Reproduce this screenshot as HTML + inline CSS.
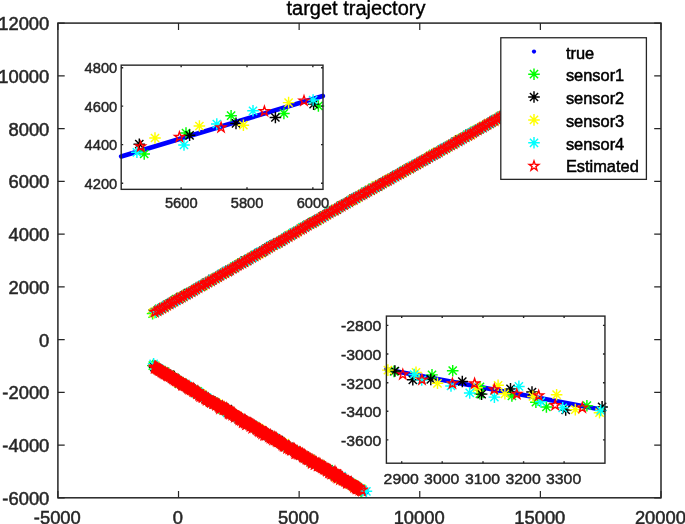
<!DOCTYPE html>
<html lang="en"><head><meta charset="utf-8"><title>target trajectory</title>
<style>html,body{margin:0;padding:0;background:#fff;width:685px;height:524px;overflow:hidden}</style>
</head><body>
<svg width="685" height="524" viewBox="0 0 685 524" style="display:block;position:absolute;left:0;top:0" font-family="'Liberation Sans', Arial, Helvetica, sans-serif">
<defs>
<path id="a" d="M-5.80 0H5.80M0 -5.80V5.80M-4.10 -4.10L4.10 4.10M-4.10 4.10L4.10 -4.10" fill="none" stroke-width="1.45"/>
<polygon id="s" points="0.00,-5.10 1.18,-1.62 4.85,-1.58 1.90,0.62 3.00,4.13 0.00,2.00 -3.00,4.13 -1.90,0.62 -4.85,-1.58 -1.18,-1.62" fill="none" stroke="#f00" stroke-width="1.4" stroke-linejoin="miter"/>
</defs>
<rect width="685" height="524" fill="#fff"/>
<use href="#a" x="152.6" y="313.6" stroke="#00ff00"/><use href="#a" x="153.4" y="312.6" stroke="#ffff00"/><use href="#a" x="152.8" y="365.6" stroke="#00ff00"/><use href="#a" x="153.6" y="363.8" stroke="#00ffff"/>
<line x1="154.8" y1="312.2" x2="560.0" y2="83.2" stroke="#00f" stroke-width="4.5" stroke-linecap="round"/>
<use href="#a" x="154.7" y="312.4" stroke="#00ff00"/><use href="#a" x="157.6" y="310.9" stroke="#00ff00"/><use href="#a" x="159.1" y="308.8" stroke="#00ff00"/><use href="#a" x="162.2" y="308.2" stroke="#00ff00"/><use href="#a" x="164.4" y="306.7" stroke="#00ff00"/><use href="#a" x="166.6" y="305.4" stroke="#00ff00"/><use href="#a" x="169.3" y="303.7" stroke="#00ff00"/><use href="#a" x="172.3" y="302.7" stroke="#00ff00"/><use href="#a" x="173.9" y="301.0" stroke="#00ff00"/><use href="#a" x="176.0" y="299.0" stroke="#00ff00"/><use href="#a" x="179.1" y="298.6" stroke="#00ff00"/><use href="#a" x="181.8" y="297.3" stroke="#00ff00"/><use href="#a" x="183.5" y="296.3" stroke="#00ff00"/><use href="#a" x="186.1" y="294.2" stroke="#00ff00"/><use href="#a" x="188.3" y="293.0" stroke="#00ff00"/><use href="#a" x="190.9" y="291.9" stroke="#00ff00"/><use href="#a" x="193.6" y="290.4" stroke="#00ff00"/><use href="#a" x="195.9" y="288.8" stroke="#00ff00"/><use href="#a" x="198.1" y="287.6" stroke="#00ff00"/><use href="#a" x="201.8" y="286.3" stroke="#00ff00"/><use href="#a" x="203.7" y="284.4" stroke="#00ff00"/><use href="#a" x="205.6" y="283.6" stroke="#00ff00"/><use href="#a" x="208.2" y="282.5" stroke="#00ff00"/><use href="#a" x="211.0" y="280.6" stroke="#00ff00"/><use href="#a" x="213.1" y="279.5" stroke="#00ff00"/><use href="#a" x="215.9" y="278.2" stroke="#00ff00"/><use href="#a" x="217.6" y="277.1" stroke="#00ff00"/><use href="#a" x="220.5" y="275.3" stroke="#00ff00"/><use href="#a" x="222.5" y="274.2" stroke="#00ff00"/><use href="#a" x="224.5" y="272.7" stroke="#00ff00"/><use href="#a" x="227.6" y="271.4" stroke="#00ff00"/><use href="#a" x="229.3" y="270.1" stroke="#00ff00"/><use href="#a" x="233.1" y="268.3" stroke="#00ff00"/><use href="#a" x="234.3" y="266.7" stroke="#00ff00"/><use href="#a" x="236.7" y="265.3" stroke="#00ff00"/><use href="#a" x="239.3" y="264.3" stroke="#00ff00"/><use href="#a" x="241.4" y="262.5" stroke="#00ff00"/><use href="#a" x="245.0" y="261.7" stroke="#00ff00"/><use href="#a" x="247.7" y="259.4" stroke="#00ff00"/><use href="#a" x="249.6" y="259.0" stroke="#00ff00"/><use href="#a" x="251.5" y="257.2" stroke="#00ff00"/><use href="#a" x="254.5" y="255.0" stroke="#00ff00"/><use href="#a" x="256.0" y="254.9" stroke="#00ff00"/><use href="#a" x="259.2" y="253.2" stroke="#00ff00"/><use href="#a" x="262.2" y="252.1" stroke="#00ff00"/><use href="#a" x="264.0" y="250.6" stroke="#00ff00"/><use href="#a" x="266.3" y="249.3" stroke="#00ff00"/><use href="#a" x="268.8" y="247.7" stroke="#00ff00"/><use href="#a" x="271.4" y="245.9" stroke="#00ff00"/><use href="#a" x="273.3" y="245.4" stroke="#00ff00"/><use href="#a" x="276.6" y="243.7" stroke="#00ff00"/><use href="#a" x="278.5" y="242.3" stroke="#00ff00"/><use href="#a" x="281.4" y="240.6" stroke="#00ff00"/><use href="#a" x="283.0" y="239.3" stroke="#00ff00"/><use href="#a" x="285.9" y="237.9" stroke="#00ff00"/><use href="#a" x="288.1" y="235.8" stroke="#00ff00"/><use href="#a" x="291.3" y="235.3" stroke="#00ff00"/><use href="#a" x="292.4" y="233.7" stroke="#00ff00"/><use href="#a" x="295.5" y="232.4" stroke="#00ff00"/><use href="#a" x="297.6" y="230.5" stroke="#00ff00"/><use href="#a" x="300.3" y="229.4" stroke="#00ff00"/><use href="#a" x="302.7" y="227.1" stroke="#00ff00"/><use href="#a" x="305.1" y="226.6" stroke="#00ff00"/><use href="#a" x="307.9" y="225.4" stroke="#00ff00"/><use href="#a" x="309.9" y="223.9" stroke="#00ff00"/><use href="#a" x="312.9" y="221.7" stroke="#00ff00"/><use href="#a" x="315.2" y="221.4" stroke="#00ff00"/><use href="#a" x="317.5" y="220.4" stroke="#00ff00"/><use href="#a" x="320.0" y="218.6" stroke="#00ff00"/><use href="#a" x="322.7" y="216.7" stroke="#00ff00"/><use href="#a" x="324.4" y="215.8" stroke="#00ff00"/><use href="#a" x="327.1" y="214.4" stroke="#00ff00"/><use href="#a" x="329.0" y="212.2" stroke="#00ff00"/><use href="#a" x="331.9" y="210.9" stroke="#00ff00"/><use href="#a" x="334.2" y="210.5" stroke="#00ff00"/><use href="#a" x="336.9" y="208.8" stroke="#00ff00"/><use href="#a" x="339.0" y="207.3" stroke="#00ff00"/><use href="#a" x="341.0" y="205.6" stroke="#00ff00"/><use href="#a" x="344.3" y="204.6" stroke="#00ff00"/><use href="#a" x="346.4" y="203.4" stroke="#00ff00"/><use href="#a" x="349.4" y="201.9" stroke="#00ff00"/><use href="#a" x="351.6" y="199.8" stroke="#00ff00"/><use href="#a" x="354.3" y="198.9" stroke="#00ff00"/><use href="#a" x="356.3" y="198.5" stroke="#00ff00"/><use href="#a" x="358.7" y="196.4" stroke="#00ff00"/><use href="#a" x="360.9" y="195.4" stroke="#00ff00"/><use href="#a" x="364.0" y="193.5" stroke="#00ff00"/><use href="#a" x="365.5" y="191.6" stroke="#00ff00"/><use href="#a" x="368.5" y="190.4" stroke="#00ff00"/><use href="#a" x="370.9" y="190.2" stroke="#00ff00"/><use href="#a" x="372.7" y="187.5" stroke="#00ff00"/><use href="#a" x="375.9" y="187.1" stroke="#00ff00"/><use href="#a" x="378.3" y="186.3" stroke="#00ff00"/><use href="#a" x="380.5" y="184.3" stroke="#00ff00"/><use href="#a" x="382.5" y="183.4" stroke="#00ff00"/><use href="#a" x="385.4" y="181.9" stroke="#00ff00"/><use href="#a" x="387.9" y="180.2" stroke="#00ff00"/><use href="#a" x="390.6" y="178.7" stroke="#00ff00"/><use href="#a" x="393.0" y="177.3" stroke="#00ff00"/><use href="#a" x="394.8" y="176.4" stroke="#00ff00"/><use href="#a" x="397.7" y="174.3" stroke="#00ff00"/><use href="#a" x="400.1" y="174.0" stroke="#00ff00"/><use href="#a" x="403.1" y="171.4" stroke="#00ff00"/><use href="#a" x="404.7" y="171.1" stroke="#00ff00"/><use href="#a" x="407.3" y="169.2" stroke="#00ff00"/><use href="#a" x="410.0" y="168.7" stroke="#00ff00"/><use href="#a" x="412.2" y="166.2" stroke="#00ff00"/><use href="#a" x="414.7" y="165.4" stroke="#00ff00"/><use href="#a" x="417.1" y="163.7" stroke="#00ff00"/><use href="#a" x="419.3" y="163.0" stroke="#00ff00"/><use href="#a" x="422.0" y="161.3" stroke="#00ff00"/><use href="#a" x="424.3" y="160.0" stroke="#00ff00"/><use href="#a" x="426.3" y="158.7" stroke="#00ff00"/><use href="#a" x="429.8" y="156.3" stroke="#00ff00"/><use href="#a" x="430.8" y="156.1" stroke="#00ff00"/><use href="#a" x="433.3" y="153.9" stroke="#00ff00"/><use href="#a" x="435.5" y="153.0" stroke="#00ff00"/><use href="#a" x="439.6" y="151.4" stroke="#00ff00"/><use href="#a" x="441.2" y="150.2" stroke="#00ff00"/><use href="#a" x="443.6" y="149.4" stroke="#00ff00"/><use href="#a" x="446.4" y="147.8" stroke="#00ff00"/><use href="#a" x="448.2" y="146.1" stroke="#00ff00"/><use href="#a" x="451.3" y="145.0" stroke="#00ff00"/><use href="#a" x="453.1" y="143.6" stroke="#00ff00"/><use href="#a" x="455.6" y="142.1" stroke="#00ff00"/><use href="#a" x="458.3" y="140.7" stroke="#00ff00"/><use href="#a" x="459.6" y="139.5" stroke="#00ff00"/><use href="#a" x="463.0" y="137.9" stroke="#00ff00"/><use href="#a" x="465.4" y="137.0" stroke="#00ff00"/><use href="#a" x="467.5" y="134.6" stroke="#00ff00"/><use href="#a" x="470.5" y="133.6" stroke="#00ff00"/><use href="#a" x="472.7" y="132.3" stroke="#00ff00"/><use href="#a" x="475.1" y="131.1" stroke="#00ff00"/><use href="#a" x="477.5" y="129.9" stroke="#00ff00"/><use href="#a" x="480.1" y="128.7" stroke="#00ff00"/><use href="#a" x="482.4" y="127.6" stroke="#00ff00"/><use href="#a" x="484.8" y="125.9" stroke="#00ff00"/><use href="#a" x="487.7" y="124.4" stroke="#00ff00"/><use href="#a" x="489.6" y="123.7" stroke="#00ff00"/><use href="#a" x="492.5" y="121.6" stroke="#00ff00"/><use href="#a" x="494.6" y="120.0" stroke="#00ff00"/><use href="#a" x="497.6" y="118.9" stroke="#00ff00"/><use href="#a" x="499.4" y="117.6" stroke="#00ff00"/><use href="#a" x="501.4" y="116.0" stroke="#00ff00"/><use href="#a" x="504.2" y="114.7" stroke="#00ff00"/><use href="#a" x="506.8" y="113.2" stroke="#00ff00"/><use href="#a" x="508.4" y="112.1" stroke="#00ff00"/><use href="#a" x="511.6" y="111.1" stroke="#00ff00"/><use href="#a" x="513.8" y="109.4" stroke="#00ff00"/><use href="#a" x="516.8" y="108.1" stroke="#00ff00"/><use href="#a" x="519.5" y="106.1" stroke="#00ff00"/><use href="#a" x="520.7" y="104.7" stroke="#00ff00"/><use href="#a" x="523.5" y="104.1" stroke="#00ff00"/><use href="#a" x="526.4" y="102.3" stroke="#00ff00"/><use href="#a" x="528.1" y="101.5" stroke="#00ff00"/><use href="#a" x="531.1" y="99.7" stroke="#00ff00"/><use href="#a" x="533.5" y="98.7" stroke="#00ff00"/><use href="#a" x="535.6" y="96.5" stroke="#00ff00"/><use href="#a" x="537.9" y="95.3" stroke="#00ff00"/><use href="#a" x="540.7" y="94.5" stroke="#00ff00"/><use href="#a" x="542.4" y="92.7" stroke="#00ff00"/><use href="#a" x="545.1" y="91.0" stroke="#00ff00"/><use href="#a" x="548.1" y="89.9" stroke="#00ff00"/><use href="#a" x="550.3" y="89.0" stroke="#00ff00"/><use href="#a" x="553.4" y="87.9" stroke="#00ff00"/><use href="#a" x="555.3" y="86.4" stroke="#00ff00"/><use href="#a" x="557.4" y="84.2" stroke="#00ff00"/><use href="#a" x="560.3" y="83.0" stroke="#00ff00"/>
<use href="#a" x="154.7" y="312.1" stroke="#000000"/><use href="#a" x="157.4" y="310.9" stroke="#000000"/><use href="#a" x="159.3" y="309.3" stroke="#000000"/><use href="#a" x="161.8" y="308.7" stroke="#000000"/><use href="#a" x="164.7" y="306.8" stroke="#000000"/><use href="#a" x="167.1" y="304.8" stroke="#000000"/><use href="#a" x="169.5" y="304.0" stroke="#000000"/><use href="#a" x="171.8" y="302.1" stroke="#000000"/><use href="#a" x="174.7" y="300.5" stroke="#000000"/><use href="#a" x="176.8" y="299.6" stroke="#000000"/><use href="#a" x="179.6" y="298.7" stroke="#000000"/><use href="#a" x="180.8" y="296.9" stroke="#000000"/><use href="#a" x="184.1" y="295.7" stroke="#000000"/><use href="#a" x="186.7" y="294.4" stroke="#000000"/><use href="#a" x="188.7" y="292.9" stroke="#000000"/><use href="#a" x="191.6" y="291.9" stroke="#000000"/><use href="#a" x="193.8" y="290.3" stroke="#000000"/><use href="#a" x="196.0" y="289.2" stroke="#000000"/><use href="#a" x="198.6" y="287.6" stroke="#000000"/><use href="#a" x="200.7" y="286.1" stroke="#000000"/><use href="#a" x="203.3" y="285.1" stroke="#000000"/><use href="#a" x="206.1" y="282.5" stroke="#000000"/><use href="#a" x="208.1" y="282.1" stroke="#000000"/><use href="#a" x="211.6" y="280.3" stroke="#000000"/><use href="#a" x="212.5" y="278.8" stroke="#000000"/><use href="#a" x="216.0" y="277.6" stroke="#000000"/><use href="#a" x="218.2" y="276.5" stroke="#000000"/><use href="#a" x="220.8" y="274.8" stroke="#000000"/><use href="#a" x="222.8" y="273.8" stroke="#000000"/><use href="#a" x="225.3" y="272.2" stroke="#000000"/><use href="#a" x="228.1" y="271.6" stroke="#000000"/><use href="#a" x="229.6" y="269.7" stroke="#000000"/><use href="#a" x="232.6" y="268.7" stroke="#000000"/><use href="#a" x="235.2" y="267.2" stroke="#000000"/><use href="#a" x="237.6" y="265.4" stroke="#000000"/><use href="#a" x="238.9" y="264.3" stroke="#000000"/><use href="#a" x="242.3" y="262.6" stroke="#000000"/><use href="#a" x="244.7" y="260.7" stroke="#000000"/><use href="#a" x="247.2" y="260.9" stroke="#000000"/><use href="#a" x="249.1" y="258.6" stroke="#000000"/><use href="#a" x="252.2" y="257.3" stroke="#000000"/><use href="#a" x="254.5" y="256.1" stroke="#000000"/><use href="#a" x="256.8" y="254.3" stroke="#000000"/><use href="#a" x="259.0" y="252.8" stroke="#000000"/><use href="#a" x="262.2" y="252.1" stroke="#000000"/><use href="#a" x="263.7" y="250.3" stroke="#000000"/><use href="#a" x="266.4" y="248.7" stroke="#000000"/><use href="#a" x="268.8" y="247.2" stroke="#000000"/><use href="#a" x="270.6" y="246.2" stroke="#000000"/><use href="#a" x="273.6" y="244.4" stroke="#000000"/><use href="#a" x="276.1" y="243.7" stroke="#000000"/><use href="#a" x="278.4" y="242.4" stroke="#000000"/><use href="#a" x="281.0" y="241.6" stroke="#000000"/><use href="#a" x="283.5" y="239.7" stroke="#000000"/><use href="#a" x="285.7" y="238.1" stroke="#000000"/><use href="#a" x="288.0" y="236.7" stroke="#000000"/><use href="#a" x="291.1" y="234.8" stroke="#000000"/><use href="#a" x="293.3" y="233.1" stroke="#000000"/><use href="#a" x="295.8" y="232.5" stroke="#000000"/><use href="#a" x="297.9" y="230.9" stroke="#000000"/><use href="#a" x="300.4" y="229.2" stroke="#000000"/><use href="#a" x="302.5" y="228.1" stroke="#000000"/><use href="#a" x="305.4" y="226.9" stroke="#000000"/><use href="#a" x="307.4" y="224.8" stroke="#000000"/><use href="#a" x="310.3" y="223.7" stroke="#000000"/><use href="#a" x="312.2" y="222.6" stroke="#000000"/><use href="#a" x="315.1" y="221.0" stroke="#000000"/><use href="#a" x="317.3" y="219.7" stroke="#000000"/><use href="#a" x="319.5" y="218.9" stroke="#000000"/><use href="#a" x="322.5" y="216.7" stroke="#000000"/><use href="#a" x="324.6" y="215.6" stroke="#000000"/><use href="#a" x="326.8" y="214.1" stroke="#000000"/><use href="#a" x="329.9" y="212.6" stroke="#000000"/><use href="#a" x="331.9" y="211.5" stroke="#000000"/><use href="#a" x="334.6" y="210.0" stroke="#000000"/><use href="#a" x="337.0" y="209.4" stroke="#000000"/><use href="#a" x="339.3" y="207.4" stroke="#000000"/><use href="#a" x="341.6" y="205.5" stroke="#000000"/><use href="#a" x="344.2" y="204.5" stroke="#000000"/><use href="#a" x="346.2" y="203.4" stroke="#000000"/><use href="#a" x="349.2" y="201.5" stroke="#000000"/><use href="#a" x="351.6" y="200.4" stroke="#000000"/><use href="#a" x="353.4" y="198.6" stroke="#000000"/><use href="#a" x="356.0" y="197.5" stroke="#000000"/><use href="#a" x="358.2" y="196.3" stroke="#000000"/><use href="#a" x="361.5" y="194.9" stroke="#000000"/><use href="#a" x="363.4" y="193.7" stroke="#000000"/><use href="#a" x="365.9" y="192.4" stroke="#000000"/><use href="#a" x="368.1" y="191.0" stroke="#000000"/><use href="#a" x="370.5" y="190.4" stroke="#000000"/><use href="#a" x="373.4" y="188.6" stroke="#000000"/><use href="#a" x="376.2" y="186.5" stroke="#000000"/><use href="#a" x="378.0" y="185.5" stroke="#000000"/><use href="#a" x="380.4" y="184.6" stroke="#000000"/><use href="#a" x="383.0" y="182.6" stroke="#000000"/><use href="#a" x="385.4" y="181.5" stroke="#000000"/><use href="#a" x="388.0" y="180.1" stroke="#000000"/><use href="#a" x="390.1" y="179.4" stroke="#000000"/><use href="#a" x="392.7" y="177.5" stroke="#000000"/><use href="#a" x="394.6" y="176.4" stroke="#000000"/><use href="#a" x="397.2" y="174.6" stroke="#000000"/><use href="#a" x="399.9" y="173.6" stroke="#000000"/><use href="#a" x="402.3" y="172.3" stroke="#000000"/><use href="#a" x="404.3" y="170.4" stroke="#000000"/><use href="#a" x="406.8" y="169.3" stroke="#000000"/><use href="#a" x="409.3" y="167.9" stroke="#000000"/><use href="#a" x="412.2" y="166.7" stroke="#000000"/><use href="#a" x="414.6" y="165.5" stroke="#000000"/><use href="#a" x="416.8" y="164.6" stroke="#000000"/><use href="#a" x="419.4" y="162.8" stroke="#000000"/><use href="#a" x="421.6" y="161.1" stroke="#000000"/><use href="#a" x="423.8" y="160.2" stroke="#000000"/><use href="#a" x="426.2" y="159.4" stroke="#000000"/><use href="#a" x="428.8" y="157.4" stroke="#000000"/><use href="#a" x="430.8" y="156.2" stroke="#000000"/><use href="#a" x="434.2" y="154.7" stroke="#000000"/><use href="#a" x="436.6" y="153.4" stroke="#000000"/><use href="#a" x="438.6" y="151.8" stroke="#000000"/><use href="#a" x="441.2" y="150.1" stroke="#000000"/><use href="#a" x="443.2" y="149.0" stroke="#000000"/><use href="#a" x="446.0" y="147.5" stroke="#000000"/><use href="#a" x="448.0" y="146.5" stroke="#000000"/><use href="#a" x="450.6" y="144.9" stroke="#000000"/><use href="#a" x="453.5" y="143.8" stroke="#000000"/><use href="#a" x="455.6" y="141.6" stroke="#000000"/><use href="#a" x="458.8" y="139.9" stroke="#000000"/><use href="#a" x="460.7" y="139.3" stroke="#000000"/><use href="#a" x="463.2" y="137.9" stroke="#000000"/><use href="#a" x="465.1" y="136.7" stroke="#000000"/><use href="#a" x="468.1" y="135.9" stroke="#000000"/><use href="#a" x="469.6" y="133.6" stroke="#000000"/><use href="#a" x="473.1" y="132.6" stroke="#000000"/><use href="#a" x="475.2" y="131.0" stroke="#000000"/><use href="#a" x="477.7" y="129.9" stroke="#000000"/><use href="#a" x="479.9" y="128.4" stroke="#000000"/><use href="#a" x="482.2" y="127.0" stroke="#000000"/><use href="#a" x="485.2" y="126.0" stroke="#000000"/><use href="#a" x="486.9" y="124.2" stroke="#000000"/><use href="#a" x="490.1" y="123.1" stroke="#000000"/><use href="#a" x="492.2" y="121.5" stroke="#000000"/><use href="#a" x="494.4" y="120.5" stroke="#000000"/><use href="#a" x="496.9" y="118.5" stroke="#000000"/><use href="#a" x="499.0" y="118.0" stroke="#000000"/><use href="#a" x="501.9" y="115.7" stroke="#000000"/><use href="#a" x="504.2" y="115.0" stroke="#000000"/><use href="#a" x="506.7" y="114.1" stroke="#000000"/><use href="#a" x="508.8" y="111.4" stroke="#000000"/><use href="#a" x="512.2" y="111.0" stroke="#000000"/><use href="#a" x="514.0" y="109.3" stroke="#000000"/><use href="#a" x="515.9" y="108.4" stroke="#000000"/><use href="#a" x="518.9" y="106.7" stroke="#000000"/><use href="#a" x="521.0" y="104.9" stroke="#000000"/><use href="#a" x="523.9" y="103.8" stroke="#000000"/><use href="#a" x="526.3" y="102.0" stroke="#000000"/><use href="#a" x="528.2" y="101.0" stroke="#000000"/><use href="#a" x="531.0" y="98.7" stroke="#000000"/><use href="#a" x="532.9" y="98.8" stroke="#000000"/><use href="#a" x="536.1" y="97.2" stroke="#000000"/><use href="#a" x="537.9" y="95.8" stroke="#000000"/><use href="#a" x="540.9" y="94.0" stroke="#000000"/><use href="#a" x="543.0" y="92.3" stroke="#000000"/><use href="#a" x="545.6" y="91.8" stroke="#000000"/><use href="#a" x="548.0" y="90.4" stroke="#000000"/><use href="#a" x="550.1" y="88.7" stroke="#000000"/><use href="#a" x="553.0" y="87.5" stroke="#000000"/><use href="#a" x="555.3" y="86.1" stroke="#000000"/><use href="#a" x="557.3" y="84.3" stroke="#000000"/><use href="#a" x="559.5" y="83.0" stroke="#000000"/>
<use href="#a" x="154.5" y="312.1" stroke="#ffff00"/><use href="#a" x="156.6" y="311.1" stroke="#ffff00"/><use href="#a" x="159.8" y="309.4" stroke="#ffff00"/><use href="#a" x="162.3" y="308.5" stroke="#ffff00"/><use href="#a" x="164.3" y="306.4" stroke="#ffff00"/><use href="#a" x="166.9" y="305.8" stroke="#ffff00"/><use href="#a" x="168.8" y="304.3" stroke="#ffff00"/><use href="#a" x="172.0" y="302.4" stroke="#ffff00"/><use href="#a" x="173.7" y="301.3" stroke="#ffff00"/><use href="#a" x="176.2" y="300.2" stroke="#ffff00"/><use href="#a" x="179.2" y="298.7" stroke="#ffff00"/><use href="#a" x="181.8" y="296.5" stroke="#ffff00"/><use href="#a" x="184.0" y="296.0" stroke="#ffff00"/><use href="#a" x="186.0" y="294.7" stroke="#ffff00"/><use href="#a" x="189.3" y="292.6" stroke="#ffff00"/><use href="#a" x="191.3" y="291.7" stroke="#ffff00"/><use href="#a" x="193.9" y="290.5" stroke="#ffff00"/><use href="#a" x="195.9" y="289.0" stroke="#ffff00"/><use href="#a" x="198.3" y="287.7" stroke="#ffff00"/><use href="#a" x="200.8" y="286.1" stroke="#ffff00"/><use href="#a" x="203.6" y="285.3" stroke="#ffff00"/><use href="#a" x="206.1" y="282.9" stroke="#ffff00"/><use href="#a" x="208.5" y="282.1" stroke="#ffff00"/><use href="#a" x="210.9" y="280.6" stroke="#ffff00"/><use href="#a" x="213.2" y="279.0" stroke="#ffff00"/><use href="#a" x="215.5" y="277.5" stroke="#ffff00"/><use href="#a" x="217.2" y="277.0" stroke="#ffff00"/><use href="#a" x="220.7" y="275.7" stroke="#ffff00"/><use href="#a" x="223.2" y="273.7" stroke="#ffff00"/><use href="#a" x="225.2" y="272.7" stroke="#ffff00"/><use href="#a" x="227.4" y="271.4" stroke="#ffff00"/><use href="#a" x="229.9" y="269.7" stroke="#ffff00"/><use href="#a" x="232.4" y="267.9" stroke="#ffff00"/><use href="#a" x="234.9" y="267.2" stroke="#ffff00"/><use href="#a" x="237.0" y="265.3" stroke="#ffff00"/><use href="#a" x="239.5" y="263.5" stroke="#ffff00"/><use href="#a" x="242.4" y="263.1" stroke="#ffff00"/><use href="#a" x="244.9" y="261.9" stroke="#ffff00"/><use href="#a" x="246.7" y="260.3" stroke="#ffff00"/><use href="#a" x="249.5" y="259.0" stroke="#ffff00"/><use href="#a" x="251.6" y="257.0" stroke="#ffff00"/><use href="#a" x="254.9" y="256.1" stroke="#ffff00"/><use href="#a" x="257.2" y="255.2" stroke="#ffff00"/><use href="#a" x="259.9" y="253.5" stroke="#ffff00"/><use href="#a" x="261.3" y="251.9" stroke="#ffff00"/><use href="#a" x="264.1" y="250.5" stroke="#ffff00"/><use href="#a" x="266.2" y="249.0" stroke="#ffff00"/><use href="#a" x="269.0" y="248.0" stroke="#ffff00"/><use href="#a" x="270.9" y="246.5" stroke="#ffff00"/><use href="#a" x="273.4" y="245.0" stroke="#ffff00"/><use href="#a" x="276.7" y="243.8" stroke="#ffff00"/><use href="#a" x="278.8" y="242.4" stroke="#ffff00"/><use href="#a" x="280.8" y="241.0" stroke="#ffff00"/><use href="#a" x="283.7" y="239.3" stroke="#ffff00"/><use href="#a" x="285.5" y="237.7" stroke="#ffff00"/><use href="#a" x="288.4" y="236.5" stroke="#ffff00"/><use href="#a" x="290.6" y="234.4" stroke="#ffff00"/><use href="#a" x="292.5" y="233.3" stroke="#ffff00"/><use href="#a" x="296.1" y="232.7" stroke="#ffff00"/><use href="#a" x="298.1" y="230.3" stroke="#ffff00"/><use href="#a" x="300.6" y="229.6" stroke="#ffff00"/><use href="#a" x="302.3" y="228.2" stroke="#ffff00"/><use href="#a" x="305.2" y="226.4" stroke="#ffff00"/><use href="#a" x="307.5" y="225.0" stroke="#ffff00"/><use href="#a" x="310.9" y="223.8" stroke="#ffff00"/><use href="#a" x="312.7" y="223.3" stroke="#ffff00"/><use href="#a" x="315.1" y="220.7" stroke="#ffff00"/><use href="#a" x="317.8" y="219.7" stroke="#ffff00"/><use href="#a" x="320.4" y="218.3" stroke="#ffff00"/><use href="#a" x="322.0" y="217.2" stroke="#ffff00"/><use href="#a" x="325.2" y="215.9" stroke="#ffff00"/><use href="#a" x="326.5" y="214.8" stroke="#ffff00"/><use href="#a" x="329.5" y="212.6" stroke="#ffff00"/><use href="#a" x="332.1" y="211.3" stroke="#ffff00"/><use href="#a" x="334.2" y="209.7" stroke="#ffff00"/><use href="#a" x="336.5" y="208.6" stroke="#ffff00"/><use href="#a" x="339.1" y="207.4" stroke="#ffff00"/><use href="#a" x="341.3" y="206.1" stroke="#ffff00"/><use href="#a" x="343.6" y="204.5" stroke="#ffff00"/><use href="#a" x="347.1" y="202.9" stroke="#ffff00"/><use href="#a" x="348.9" y="201.8" stroke="#ffff00"/><use href="#a" x="351.5" y="200.5" stroke="#ffff00"/><use href="#a" x="353.3" y="199.2" stroke="#ffff00"/><use href="#a" x="356.4" y="197.9" stroke="#ffff00"/><use href="#a" x="358.4" y="196.5" stroke="#ffff00"/><use href="#a" x="361.3" y="194.7" stroke="#ffff00"/><use href="#a" x="362.9" y="193.7" stroke="#ffff00"/><use href="#a" x="365.7" y="192.6" stroke="#ffff00"/><use href="#a" x="368.6" y="190.9" stroke="#ffff00"/><use href="#a" x="370.5" y="189.6" stroke="#ffff00"/><use href="#a" x="373.4" y="189.2" stroke="#ffff00"/><use href="#a" x="375.5" y="185.7" stroke="#ffff00"/><use href="#a" x="377.8" y="185.3" stroke="#ffff00"/><use href="#a" x="380.6" y="184.2" stroke="#ffff00"/><use href="#a" x="383.3" y="183.0" stroke="#ffff00"/><use href="#a" x="384.8" y="181.9" stroke="#ffff00"/><use href="#a" x="387.7" y="179.5" stroke="#ffff00"/><use href="#a" x="390.0" y="179.1" stroke="#ffff00"/><use href="#a" x="392.6" y="177.9" stroke="#ffff00"/><use href="#a" x="395.2" y="176.1" stroke="#ffff00"/><use href="#a" x="397.3" y="175.1" stroke="#ffff00"/><use href="#a" x="400.3" y="173.6" stroke="#ffff00"/><use href="#a" x="402.6" y="172.4" stroke="#ffff00"/><use href="#a" x="404.7" y="170.1" stroke="#ffff00"/><use href="#a" x="407.1" y="169.2" stroke="#ffff00"/><use href="#a" x="408.7" y="168.7" stroke="#ffff00"/><use href="#a" x="411.4" y="166.8" stroke="#ffff00"/><use href="#a" x="414.9" y="165.3" stroke="#ffff00"/><use href="#a" x="417.0" y="164.0" stroke="#ffff00"/><use href="#a" x="419.3" y="163.1" stroke="#ffff00"/><use href="#a" x="421.6" y="161.5" stroke="#ffff00"/><use href="#a" x="424.0" y="159.8" stroke="#ffff00"/><use href="#a" x="426.4" y="159.0" stroke="#ffff00"/><use href="#a" x="428.9" y="157.0" stroke="#ffff00"/><use href="#a" x="431.2" y="155.9" stroke="#ffff00"/><use href="#a" x="433.5" y="154.8" stroke="#ffff00"/><use href="#a" x="436.6" y="152.3" stroke="#ffff00"/><use href="#a" x="439.0" y="151.6" stroke="#ffff00"/><use href="#a" x="440.5" y="150.8" stroke="#ffff00"/><use href="#a" x="443.7" y="149.2" stroke="#ffff00"/><use href="#a" x="446.1" y="147.5" stroke="#ffff00"/><use href="#a" x="447.9" y="146.5" stroke="#ffff00"/><use href="#a" x="450.9" y="144.3" stroke="#ffff00"/><use href="#a" x="453.6" y="143.7" stroke="#ffff00"/><use href="#a" x="455.6" y="142.2" stroke="#ffff00"/><use href="#a" x="458.0" y="140.2" stroke="#ffff00"/><use href="#a" x="460.7" y="138.6" stroke="#ffff00"/><use href="#a" x="463.0" y="137.9" stroke="#ffff00"/><use href="#a" x="465.6" y="136.7" stroke="#ffff00"/><use href="#a" x="468.1" y="135.6" stroke="#ffff00"/><use href="#a" x="471.1" y="134.6" stroke="#ffff00"/><use href="#a" x="472.3" y="133.0" stroke="#ffff00"/><use href="#a" x="474.4" y="130.4" stroke="#ffff00"/><use href="#a" x="477.2" y="129.6" stroke="#ffff00"/><use href="#a" x="480.3" y="128.5" stroke="#ffff00"/><use href="#a" x="482.1" y="126.8" stroke="#ffff00"/><use href="#a" x="485.2" y="125.3" stroke="#ffff00"/><use href="#a" x="487.0" y="124.1" stroke="#ffff00"/><use href="#a" x="489.4" y="123.1" stroke="#ffff00"/><use href="#a" x="492.2" y="122.1" stroke="#ffff00"/><use href="#a" x="495.2" y="120.5" stroke="#ffff00"/><use href="#a" x="496.9" y="118.5" stroke="#ffff00"/><use href="#a" x="499.1" y="116.9" stroke="#ffff00"/><use href="#a" x="501.7" y="116.6" stroke="#ffff00"/><use href="#a" x="504.2" y="113.9" stroke="#ffff00"/><use href="#a" x="506.3" y="113.0" stroke="#ffff00"/><use href="#a" x="508.5" y="112.2" stroke="#ffff00"/><use href="#a" x="511.5" y="110.7" stroke="#ffff00"/><use href="#a" x="513.7" y="108.8" stroke="#ffff00"/><use href="#a" x="516.6" y="107.2" stroke="#ffff00"/><use href="#a" x="518.8" y="106.6" stroke="#ffff00"/><use href="#a" x="521.3" y="105.3" stroke="#ffff00"/><use href="#a" x="523.5" y="104.3" stroke="#ffff00"/><use href="#a" x="526.4" y="102.5" stroke="#ffff00"/><use href="#a" x="528.6" y="100.9" stroke="#ffff00"/><use href="#a" x="531.3" y="99.7" stroke="#ffff00"/><use href="#a" x="533.3" y="99.1" stroke="#ffff00"/><use href="#a" x="536.3" y="97.2" stroke="#ffff00"/><use href="#a" x="538.3" y="95.5" stroke="#ffff00"/><use href="#a" x="540.1" y="94.7" stroke="#ffff00"/><use href="#a" x="542.8" y="93.1" stroke="#ffff00"/><use href="#a" x="545.5" y="91.0" stroke="#ffff00"/><use href="#a" x="547.7" y="89.4" stroke="#ffff00"/><use href="#a" x="550.2" y="88.9" stroke="#ffff00"/><use href="#a" x="553.3" y="87.3" stroke="#ffff00"/><use href="#a" x="555.1" y="86.0" stroke="#ffff00"/><use href="#a" x="557.9" y="85.0" stroke="#ffff00"/><use href="#a" x="559.8" y="83.3" stroke="#ffff00"/>
<use href="#a" x="155.2" y="312.3" stroke="#00ffff"/><use href="#a" x="157.4" y="311.0" stroke="#00ffff"/><use href="#a" x="159.8" y="309.2" stroke="#00ffff"/><use href="#a" x="161.9" y="307.8" stroke="#00ffff"/><use href="#a" x="164.3" y="307.1" stroke="#00ffff"/><use href="#a" x="166.2" y="305.2" stroke="#00ffff"/><use href="#a" x="169.6" y="304.3" stroke="#00ffff"/><use href="#a" x="171.6" y="302.2" stroke="#00ffff"/><use href="#a" x="174.7" y="301.4" stroke="#00ffff"/><use href="#a" x="177.0" y="299.9" stroke="#00ffff"/><use href="#a" x="178.5" y="298.9" stroke="#00ffff"/><use href="#a" x="181.4" y="297.5" stroke="#00ffff"/><use href="#a" x="184.0" y="296.1" stroke="#00ffff"/><use href="#a" x="186.9" y="294.2" stroke="#00ffff"/><use href="#a" x="189.2" y="292.6" stroke="#00ffff"/><use href="#a" x="191.2" y="291.8" stroke="#00ffff"/><use href="#a" x="194.3" y="290.4" stroke="#00ffff"/><use href="#a" x="196.7" y="288.0" stroke="#00ffff"/><use href="#a" x="198.6" y="287.3" stroke="#00ffff"/><use href="#a" x="199.9" y="286.0" stroke="#00ffff"/><use href="#a" x="202.7" y="284.7" stroke="#00ffff"/><use href="#a" x="206.0" y="282.9" stroke="#00ffff"/><use href="#a" x="208.1" y="282.6" stroke="#00ffff"/><use href="#a" x="210.7" y="280.9" stroke="#00ffff"/><use href="#a" x="212.7" y="278.8" stroke="#00ffff"/><use href="#a" x="215.7" y="278.5" stroke="#00ffff"/><use href="#a" x="217.9" y="276.3" stroke="#00ffff"/><use href="#a" x="220.8" y="275.1" stroke="#00ffff"/><use href="#a" x="221.9" y="273.7" stroke="#00ffff"/><use href="#a" x="225.2" y="272.9" stroke="#00ffff"/><use href="#a" x="226.9" y="270.7" stroke="#00ffff"/><use href="#a" x="229.8" y="269.8" stroke="#00ffff"/><use href="#a" x="232.2" y="268.7" stroke="#00ffff"/><use href="#a" x="234.9" y="266.5" stroke="#00ffff"/><use href="#a" x="236.8" y="265.5" stroke="#00ffff"/><use href="#a" x="240.0" y="264.1" stroke="#00ffff"/><use href="#a" x="242.4" y="262.9" stroke="#00ffff"/><use href="#a" x="244.5" y="261.3" stroke="#00ffff"/><use href="#a" x="247.7" y="260.0" stroke="#00ffff"/><use href="#a" x="249.4" y="258.6" stroke="#00ffff"/><use href="#a" x="252.8" y="257.7" stroke="#00ffff"/><use href="#a" x="254.3" y="256.1" stroke="#00ffff"/><use href="#a" x="256.2" y="254.3" stroke="#00ffff"/><use href="#a" x="258.7" y="252.7" stroke="#00ffff"/><use href="#a" x="260.8" y="251.5" stroke="#00ffff"/><use href="#a" x="264.2" y="250.5" stroke="#00ffff"/><use href="#a" x="266.4" y="249.1" stroke="#00ffff"/><use href="#a" x="269.0" y="247.6" stroke="#00ffff"/><use href="#a" x="270.9" y="245.3" stroke="#00ffff"/><use href="#a" x="273.9" y="244.9" stroke="#00ffff"/><use href="#a" x="276.5" y="243.1" stroke="#00ffff"/><use href="#a" x="278.5" y="242.9" stroke="#00ffff"/><use href="#a" x="281.3" y="240.7" stroke="#00ffff"/><use href="#a" x="283.7" y="239.5" stroke="#00ffff"/><use href="#a" x="285.8" y="237.4" stroke="#00ffff"/><use href="#a" x="288.2" y="236.0" stroke="#00ffff"/><use href="#a" x="290.9" y="235.4" stroke="#00ffff"/><use href="#a" x="292.9" y="233.2" stroke="#00ffff"/><use href="#a" x="295.1" y="232.1" stroke="#00ffff"/><use href="#a" x="297.5" y="230.9" stroke="#00ffff"/><use href="#a" x="300.4" y="229.3" stroke="#00ffff"/><use href="#a" x="302.9" y="227.6" stroke="#00ffff"/><use href="#a" x="305.2" y="226.7" stroke="#00ffff"/><use href="#a" x="307.3" y="225.2" stroke="#00ffff"/><use href="#a" x="310.5" y="223.9" stroke="#00ffff"/><use href="#a" x="312.6" y="222.9" stroke="#00ffff"/><use href="#a" x="315.4" y="220.7" stroke="#00ffff"/><use href="#a" x="317.1" y="219.8" stroke="#00ffff"/><use href="#a" x="319.9" y="218.2" stroke="#00ffff"/><use href="#a" x="322.7" y="216.9" stroke="#00ffff"/><use href="#a" x="324.5" y="216.3" stroke="#00ffff"/><use href="#a" x="327.5" y="213.7" stroke="#00ffff"/><use href="#a" x="329.5" y="212.4" stroke="#00ffff"/><use href="#a" x="331.6" y="211.4" stroke="#00ffff"/><use href="#a" x="334.0" y="209.9" stroke="#00ffff"/><use href="#a" x="337.8" y="208.0" stroke="#00ffff"/><use href="#a" x="339.2" y="207.5" stroke="#00ffff"/><use href="#a" x="341.4" y="206.1" stroke="#00ffff"/><use href="#a" x="344.2" y="204.3" stroke="#00ffff"/><use href="#a" x="346.5" y="203.1" stroke="#00ffff"/><use href="#a" x="348.3" y="202.3" stroke="#00ffff"/><use href="#a" x="350.8" y="200.3" stroke="#00ffff"/><use href="#a" x="354.4" y="199.2" stroke="#00ffff"/><use href="#a" x="355.8" y="197.3" stroke="#00ffff"/><use href="#a" x="358.6" y="196.3" stroke="#00ffff"/><use href="#a" x="361.1" y="195.3" stroke="#00ffff"/><use href="#a" x="363.2" y="193.8" stroke="#00ffff"/><use href="#a" x="365.8" y="192.1" stroke="#00ffff"/><use href="#a" x="368.4" y="190.7" stroke="#00ffff"/><use href="#a" x="370.8" y="190.0" stroke="#00ffff"/><use href="#a" x="373.2" y="188.4" stroke="#00ffff"/><use href="#a" x="375.9" y="186.8" stroke="#00ffff"/><use href="#a" x="377.8" y="185.8" stroke="#00ffff"/><use href="#a" x="380.7" y="184.2" stroke="#00ffff"/><use href="#a" x="382.3" y="183.5" stroke="#00ffff"/><use href="#a" x="385.3" y="181.5" stroke="#00ffff"/><use href="#a" x="387.6" y="180.5" stroke="#00ffff"/><use href="#a" x="390.7" y="178.9" stroke="#00ffff"/><use href="#a" x="393.4" y="177.3" stroke="#00ffff"/><use href="#a" x="395.2" y="175.6" stroke="#00ffff"/><use href="#a" x="397.5" y="174.7" stroke="#00ffff"/><use href="#a" x="399.4" y="174.4" stroke="#00ffff"/><use href="#a" x="402.2" y="171.8" stroke="#00ffff"/><use href="#a" x="404.6" y="170.6" stroke="#00ffff"/><use href="#a" x="407.1" y="169.7" stroke="#00ffff"/><use href="#a" x="409.3" y="168.1" stroke="#00ffff"/><use href="#a" x="412.4" y="166.1" stroke="#00ffff"/><use href="#a" x="414.7" y="165.2" stroke="#00ffff"/><use href="#a" x="416.4" y="163.7" stroke="#00ffff"/><use href="#a" x="419.1" y="162.5" stroke="#00ffff"/><use href="#a" x="421.8" y="160.9" stroke="#00ffff"/><use href="#a" x="424.4" y="160.4" stroke="#00ffff"/><use href="#a" x="426.3" y="158.9" stroke="#00ffff"/><use href="#a" x="429.7" y="157.2" stroke="#00ffff"/><use href="#a" x="431.8" y="155.9" stroke="#00ffff"/><use href="#a" x="434.0" y="154.7" stroke="#00ffff"/><use href="#a" x="436.3" y="153.3" stroke="#00ffff"/><use href="#a" x="439.1" y="151.5" stroke="#00ffff"/><use href="#a" x="441.2" y="150.2" stroke="#00ffff"/><use href="#a" x="443.4" y="148.3" stroke="#00ffff"/><use href="#a" x="445.6" y="147.4" stroke="#00ffff"/><use href="#a" x="448.0" y="146.4" stroke="#00ffff"/><use href="#a" x="450.6" y="145.0" stroke="#00ffff"/><use href="#a" x="453.1" y="143.5" stroke="#00ffff"/><use href="#a" x="455.3" y="142.2" stroke="#00ffff"/><use href="#a" x="458.4" y="141.7" stroke="#00ffff"/><use href="#a" x="460.8" y="139.6" stroke="#00ffff"/><use href="#a" x="462.2" y="138.1" stroke="#00ffff"/><use href="#a" x="465.8" y="137.4" stroke="#00ffff"/><use href="#a" x="467.6" y="135.1" stroke="#00ffff"/><use href="#a" x="470.0" y="133.7" stroke="#00ffff"/><use href="#a" x="472.4" y="132.7" stroke="#00ffff"/><use href="#a" x="474.6" y="130.9" stroke="#00ffff"/><use href="#a" x="476.8" y="129.8" stroke="#00ffff"/><use href="#a" x="480.2" y="128.7" stroke="#00ffff"/><use href="#a" x="482.9" y="127.7" stroke="#00ffff"/><use href="#a" x="484.6" y="125.9" stroke="#00ffff"/><use href="#a" x="487.7" y="124.1" stroke="#00ffff"/><use href="#a" x="490.2" y="123.2" stroke="#00ffff"/><use href="#a" x="491.6" y="121.6" stroke="#00ffff"/><use href="#a" x="494.6" y="119.7" stroke="#00ffff"/><use href="#a" x="496.9" y="119.0" stroke="#00ffff"/><use href="#a" x="499.3" y="117.2" stroke="#00ffff"/><use href="#a" x="502.0" y="116.1" stroke="#00ffff"/><use href="#a" x="504.2" y="114.4" stroke="#00ffff"/><use href="#a" x="506.1" y="112.5" stroke="#00ffff"/><use href="#a" x="508.8" y="111.9" stroke="#00ffff"/><use href="#a" x="512.1" y="111.1" stroke="#00ffff"/><use href="#a" x="513.7" y="108.7" stroke="#00ffff"/><use href="#a" x="517.0" y="108.2" stroke="#00ffff"/><use href="#a" x="519.1" y="106.0" stroke="#00ffff"/><use href="#a" x="521.2" y="104.9" stroke="#00ffff"/><use href="#a" x="523.4" y="104.0" stroke="#00ffff"/><use href="#a" x="525.5" y="102.7" stroke="#00ffff"/><use href="#a" x="528.5" y="100.9" stroke="#00ffff"/><use href="#a" x="530.3" y="99.7" stroke="#00ffff"/><use href="#a" x="533.3" y="98.5" stroke="#00ffff"/><use href="#a" x="535.5" y="96.4" stroke="#00ffff"/><use href="#a" x="538.2" y="95.5" stroke="#00ffff"/><use href="#a" x="540.6" y="94.6" stroke="#00ffff"/><use href="#a" x="543.4" y="93.4" stroke="#00ffff"/><use href="#a" x="545.7" y="91.7" stroke="#00ffff"/><use href="#a" x="548.0" y="90.2" stroke="#00ffff"/><use href="#a" x="550.9" y="88.6" stroke="#00ffff"/><use href="#a" x="552.7" y="87.0" stroke="#00ffff"/><use href="#a" x="554.6" y="86.3" stroke="#00ffff"/><use href="#a" x="557.1" y="84.9" stroke="#00ffff"/><use href="#a" x="559.9" y="82.5" stroke="#00ffff"/>
<use href="#s" x="154.8" y="312.0"/><use href="#s" x="157.3" y="310.7"/><use href="#s" x="159.6" y="309.4"/><use href="#s" x="162.0" y="308.2"/><use href="#s" x="164.6" y="306.8"/><use href="#s" x="167.0" y="305.2"/><use href="#s" x="169.3" y="303.9"/><use href="#s" x="171.7" y="302.7"/><use href="#s" x="174.1" y="301.1"/><use href="#s" x="176.5" y="299.6"/><use href="#s" x="179.1" y="298.6"/><use href="#s" x="181.5" y="297.0"/><use href="#s" x="183.6" y="295.8"/><use href="#s" x="186.5" y="294.4"/><use href="#s" x="188.9" y="293.2"/><use href="#s" x="191.3" y="291.6"/><use href="#s" x="193.7" y="290.4"/><use href="#s" x="195.9" y="288.8"/><use href="#s" x="198.3" y="287.5"/><use href="#s" x="201.0" y="286.0"/><use href="#s" x="203.1" y="284.9"/><use href="#s" x="205.8" y="283.6"/><use href="#s" x="208.0" y="282.2"/><use href="#s" x="210.9" y="280.9"/><use href="#s" x="213.0" y="279.3"/><use href="#s" x="215.4" y="278.0"/><use href="#s" x="218.0" y="276.6"/><use href="#s" x="220.1" y="275.3"/><use href="#s" x="222.7" y="273.9"/><use href="#s" x="225.2" y="272.6"/><use href="#s" x="227.7" y="271.0"/><use href="#s" x="230.1" y="269.9"/><use href="#s" x="232.4" y="268.4"/><use href="#s" x="235.0" y="267.1"/><use href="#s" x="237.4" y="265.4"/><use href="#s" x="239.6" y="264.2"/><use href="#s" x="242.2" y="263.1"/><use href="#s" x="244.5" y="261.6"/><use href="#s" x="247.1" y="259.9"/><use href="#s" x="249.3" y="258.7"/><use href="#s" x="251.8" y="257.3"/><use href="#s" x="254.3" y="255.8"/><use href="#s" x="256.8" y="254.5"/><use href="#s" x="259.1" y="253.2"/><use href="#s" x="261.5" y="251.8"/><use href="#s" x="264.2" y="250.4"/><use href="#s" x="266.4" y="249.1"/><use href="#s" x="268.8" y="247.7"/><use href="#s" x="271.1" y="246.3"/><use href="#s" x="273.6" y="244.7"/><use href="#s" x="276.3" y="243.3"/><use href="#s" x="278.8" y="242.1"/><use href="#s" x="281.1" y="240.5"/><use href="#s" x="283.5" y="239.4"/><use href="#s" x="285.8" y="237.9"/><use href="#s" x="288.5" y="236.5"/><use href="#s" x="290.6" y="235.0"/><use href="#s" x="293.2" y="233.7"/><use href="#s" x="295.5" y="232.5"/><use href="#s" x="297.9" y="230.9"/><use href="#s" x="300.6" y="229.4"/><use href="#s" x="302.9" y="228.3"/><use href="#s" x="305.1" y="226.6"/><use href="#s" x="307.5" y="225.1"/><use href="#s" x="310.1" y="223.7"/><use href="#s" x="312.6" y="222.7"/><use href="#s" x="314.7" y="221.1"/><use href="#s" x="317.1" y="219.8"/><use href="#s" x="319.7" y="218.3"/><use href="#s" x="322.2" y="217.0"/><use href="#s" x="324.6" y="215.5"/><use href="#s" x="327.0" y="214.2"/><use href="#s" x="329.4" y="212.8"/><use href="#s" x="331.7" y="211.3"/><use href="#s" x="334.6" y="210.0"/><use href="#s" x="336.6" y="208.6"/><use href="#s" x="339.1" y="207.0"/><use href="#s" x="341.5" y="206.0"/><use href="#s" x="344.1" y="204.5"/><use href="#s" x="346.4" y="203.0"/><use href="#s" x="349.1" y="201.8"/><use href="#s" x="351.2" y="200.2"/><use href="#s" x="353.6" y="199.4"/><use href="#s" x="356.0" y="197.7"/><use href="#s" x="358.6" y="196.3"/><use href="#s" x="361.0" y="194.8"/><use href="#s" x="363.3" y="193.9"/><use href="#s" x="365.8" y="192.4"/><use href="#s" x="368.1" y="190.9"/><use href="#s" x="370.8" y="189.7"/><use href="#s" x="373.0" y="188.3"/><use href="#s" x="375.6" y="186.8"/><use href="#s" x="378.1" y="185.5"/><use href="#s" x="380.4" y="184.2"/><use href="#s" x="382.6" y="182.9"/><use href="#s" x="385.2" y="181.4"/><use href="#s" x="387.7" y="180.3"/><use href="#s" x="390.1" y="179.0"/><use href="#s" x="392.4" y="177.4"/><use href="#s" x="395.2" y="176.2"/><use href="#s" x="397.5" y="174.7"/><use href="#s" x="400.0" y="173.5"/><use href="#s" x="402.4" y="172.1"/><use href="#s" x="404.9" y="170.7"/><use href="#s" x="407.0" y="169.3"/><use href="#s" x="409.7" y="168.0"/><use href="#s" x="411.9" y="166.6"/><use href="#s" x="414.4" y="165.2"/><use href="#s" x="416.8" y="163.9"/><use href="#s" x="419.2" y="162.5"/><use href="#s" x="421.7" y="161.2"/><use href="#s" x="424.1" y="160.0"/><use href="#s" x="426.6" y="158.3"/><use href="#s" x="428.9" y="157.1"/><use href="#s" x="431.5" y="155.7"/><use href="#s" x="433.7" y="154.4"/><use href="#s" x="436.2" y="153.2"/><use href="#s" x="438.6" y="151.9"/><use href="#s" x="440.9" y="150.2"/><use href="#s" x="443.7" y="149.1"/><use href="#s" x="446.0" y="147.7"/><use href="#s" x="448.4" y="146.1"/><use href="#s" x="450.9" y="144.8"/><use href="#s" x="453.4" y="143.6"/><use href="#s" x="455.4" y="142.0"/><use href="#s" x="458.2" y="140.8"/><use href="#s" x="460.5" y="139.5"/><use href="#s" x="462.9" y="138.0"/><use href="#s" x="465.4" y="136.7"/><use href="#s" x="468.0" y="135.3"/><use href="#s" x="470.5" y="134.2"/><use href="#s" x="472.9" y="132.7"/><use href="#s" x="475.1" y="131.2"/><use href="#s" x="477.5" y="129.8"/><use href="#s" x="479.9" y="128.4"/><use href="#s" x="482.6" y="127.2"/><use href="#s" x="484.7" y="125.5"/><use href="#s" x="487.2" y="124.3"/><use href="#s" x="489.5" y="122.8"/><use href="#s" x="491.8" y="121.7"/><use href="#s" x="494.5" y="120.6"/><use href="#s" x="496.9" y="118.9"/><use href="#s" x="499.5" y="117.5"/><use href="#s" x="501.8" y="116.1"/><use href="#s" x="504.1" y="114.9"/><use href="#s" x="506.7" y="113.6"/><use href="#s" x="509.0" y="112.0"/><use href="#s" x="511.4" y="110.8"/><use href="#s" x="513.7" y="109.3"/><use href="#s" x="516.5" y="108.1"/><use href="#s" x="518.6" y="106.7"/><use href="#s" x="521.1" y="105.1"/><use href="#s" x="523.4" y="103.9"/><use href="#s" x="526.2" y="102.3"/><use href="#s" x="528.4" y="101.0"/><use href="#s" x="531.2" y="99.8"/><use href="#s" x="533.2" y="98.1"/><use href="#s" x="535.7" y="97.1"/><use href="#s" x="538.4" y="95.5"/><use href="#s" x="540.5" y="94.1"/><use href="#s" x="542.8" y="92.9"/><use href="#s" x="545.3" y="91.6"/><use href="#s" x="547.7" y="89.9"/><use href="#s" x="550.3" y="88.6"/><use href="#s" x="552.8" y="87.3"/><use href="#s" x="555.0" y="86.0"/><use href="#s" x="557.7" y="84.4"/><use href="#s" x="560.2" y="83.3"/>
<line x1="154.8" y1="367.0" x2="362.0" y2="490.3" stroke="#00f" stroke-width="4.5" stroke-linecap="round"/>
<use href="#a" x="155.3" y="365.9" stroke="#00ff00"/><use href="#a" x="155.9" y="367.9" stroke="#00ff00"/><use href="#a" x="156.5" y="367.9" stroke="#00ff00"/><use href="#a" x="159.3" y="369.8" stroke="#00ff00"/><use href="#a" x="158.8" y="370.1" stroke="#00ff00"/><use href="#a" x="160.2" y="371.1" stroke="#00ff00"/><use href="#a" x="162.1" y="371.1" stroke="#00ff00"/><use href="#a" x="163.7" y="371.6" stroke="#00ff00"/><use href="#a" x="165.1" y="371.5" stroke="#00ff00"/><use href="#a" x="164.5" y="373.2" stroke="#00ff00"/><use href="#a" x="168.0" y="375.4" stroke="#00ff00"/><use href="#a" x="167.7" y="375.2" stroke="#00ff00"/><use href="#a" x="170.3" y="375.1" stroke="#00ff00"/><use href="#a" x="170.8" y="376.7" stroke="#00ff00"/><use href="#a" x="172.1" y="377.6" stroke="#00ff00"/><use href="#a" x="172.8" y="377.9" stroke="#00ff00"/><use href="#a" x="174.9" y="377.8" stroke="#00ff00"/><use href="#a" x="174.8" y="379.6" stroke="#00ff00"/><use href="#a" x="176.3" y="379.5" stroke="#00ff00"/><use href="#a" x="178.0" y="380.5" stroke="#00ff00"/><use href="#a" x="180.1" y="382.1" stroke="#00ff00"/><use href="#a" x="178.9" y="383.8" stroke="#00ff00"/><use href="#a" x="181.2" y="382.6" stroke="#00ff00"/><use href="#a" x="182.9" y="383.2" stroke="#00ff00"/><use href="#a" x="184.1" y="385.5" stroke="#00ff00"/><use href="#a" x="184.9" y="385.7" stroke="#00ff00"/><use href="#a" x="186.1" y="385.4" stroke="#00ff00"/><use href="#a" x="187.2" y="386.8" stroke="#00ff00"/><use href="#a" x="188.3" y="387.8" stroke="#00ff00"/><use href="#a" x="190.4" y="388.9" stroke="#00ff00"/><use href="#a" x="192.1" y="389.4" stroke="#00ff00"/><use href="#a" x="192.6" y="389.6" stroke="#00ff00"/><use href="#a" x="193.2" y="390.0" stroke="#00ff00"/><use href="#a" x="195.2" y="390.5" stroke="#00ff00"/><use href="#a" x="195.5" y="392.1" stroke="#00ff00"/><use href="#a" x="197.6" y="391.4" stroke="#00ff00"/><use href="#a" x="198.3" y="392.8" stroke="#00ff00"/><use href="#a" x="199.8" y="393.0" stroke="#00ff00"/><use href="#a" x="200.2" y="394.4" stroke="#00ff00"/><use href="#a" x="202.8" y="395.3" stroke="#00ff00"/><use href="#a" x="202.7" y="395.9" stroke="#00ff00"/><use href="#a" x="203.6" y="396.9" stroke="#00ff00"/><use href="#a" x="206.1" y="397.5" stroke="#00ff00"/><use href="#a" x="206.4" y="399.0" stroke="#00ff00"/><use href="#a" x="207.0" y="398.8" stroke="#00ff00"/><use href="#a" x="208.8" y="400.3" stroke="#00ff00"/><use href="#a" x="210.5" y="400.3" stroke="#00ff00"/><use href="#a" x="211.5" y="401.5" stroke="#00ff00"/><use href="#a" x="213.0" y="402.3" stroke="#00ff00"/><use href="#a" x="213.0" y="402.0" stroke="#00ff00"/><use href="#a" x="215.2" y="402.6" stroke="#00ff00"/><use href="#a" x="214.7" y="404.2" stroke="#00ff00"/><use href="#a" x="216.8" y="405.1" stroke="#00ff00"/><use href="#a" x="218.9" y="404.5" stroke="#00ff00"/><use href="#a" x="219.6" y="406.3" stroke="#00ff00"/><use href="#a" x="219.9" y="407.7" stroke="#00ff00"/><use href="#a" x="220.2" y="407.3" stroke="#00ff00"/><use href="#a" x="222.6" y="409.7" stroke="#00ff00"/><use href="#a" x="223.6" y="408.7" stroke="#00ff00"/><use href="#a" x="224.8" y="409.8" stroke="#00ff00"/><use href="#a" x="227.8" y="410.2" stroke="#00ff00"/><use href="#a" x="227.6" y="411.4" stroke="#00ff00"/><use href="#a" x="229.4" y="412.0" stroke="#00ff00"/><use href="#a" x="231.1" y="412.2" stroke="#00ff00"/><use href="#a" x="229.9" y="413.2" stroke="#00ff00"/><use href="#a" x="233.4" y="414.6" stroke="#00ff00"/><use href="#a" x="234.4" y="414.5" stroke="#00ff00"/><use href="#a" x="235.0" y="415.5" stroke="#00ff00"/><use href="#a" x="235.9" y="416.8" stroke="#00ff00"/><use href="#a" x="238.1" y="416.8" stroke="#00ff00"/><use href="#a" x="239.0" y="417.5" stroke="#00ff00"/><use href="#a" x="240.1" y="419.0" stroke="#00ff00"/><use href="#a" x="241.4" y="419.5" stroke="#00ff00"/><use href="#a" x="242.8" y="420.3" stroke="#00ff00"/><use href="#a" x="244.1" y="420.6" stroke="#00ff00"/><use href="#a" x="244.1" y="422.6" stroke="#00ff00"/><use href="#a" x="246.2" y="421.8" stroke="#00ff00"/><use href="#a" x="247.8" y="422.8" stroke="#00ff00"/><use href="#a" x="248.3" y="423.5" stroke="#00ff00"/><use href="#a" x="250.6" y="424.9" stroke="#00ff00"/><use href="#a" x="251.8" y="425.8" stroke="#00ff00"/><use href="#a" x="252.7" y="426.2" stroke="#00ff00"/><use href="#a" x="253.4" y="426.2" stroke="#00ff00"/><use href="#a" x="254.7" y="426.4" stroke="#00ff00"/><use href="#a" x="256.5" y="428.1" stroke="#00ff00"/><use href="#a" x="256.4" y="429.1" stroke="#00ff00"/><use href="#a" x="258.9" y="428.8" stroke="#00ff00"/><use href="#a" x="259.6" y="429.9" stroke="#00ff00"/><use href="#a" x="261.4" y="430.7" stroke="#00ff00"/><use href="#a" x="262.9" y="431.9" stroke="#00ff00"/><use href="#a" x="262.9" y="431.3" stroke="#00ff00"/><use href="#a" x="264.9" y="433.2" stroke="#00ff00"/><use href="#a" x="265.7" y="434.2" stroke="#00ff00"/><use href="#a" x="267.3" y="435.1" stroke="#00ff00"/><use href="#a" x="267.5" y="434.8" stroke="#00ff00"/><use href="#a" x="269.7" y="436.1" stroke="#00ff00"/><use href="#a" x="270.2" y="436.9" stroke="#00ff00"/><use href="#a" x="272.4" y="437.2" stroke="#00ff00"/><use href="#a" x="273.6" y="437.6" stroke="#00ff00"/><use href="#a" x="275.1" y="438.9" stroke="#00ff00"/><use href="#a" x="275.8" y="440.4" stroke="#00ff00"/><use href="#a" x="276.0" y="440.7" stroke="#00ff00"/><use href="#a" x="278.1" y="440.0" stroke="#00ff00"/><use href="#a" x="278.7" y="441.5" stroke="#00ff00"/><use href="#a" x="279.7" y="442.5" stroke="#00ff00"/><use href="#a" x="281.1" y="443.9" stroke="#00ff00"/><use href="#a" x="282.8" y="443.5" stroke="#00ff00"/><use href="#a" x="283.4" y="445.1" stroke="#00ff00"/><use href="#a" x="285.0" y="445.0" stroke="#00ff00"/><use href="#a" x="285.8" y="445.5" stroke="#00ff00"/><use href="#a" x="288.1" y="447.0" stroke="#00ff00"/><use href="#a" x="288.8" y="447.6" stroke="#00ff00"/><use href="#a" x="289.3" y="447.9" stroke="#00ff00"/><use href="#a" x="290.7" y="448.6" stroke="#00ff00"/><use href="#a" x="292.1" y="449.1" stroke="#00ff00"/><use href="#a" x="294.1" y="450.0" stroke="#00ff00"/><use href="#a" x="295.3" y="450.9" stroke="#00ff00"/><use href="#a" x="296.3" y="451.0" stroke="#00ff00"/><use href="#a" x="296.5" y="451.3" stroke="#00ff00"/><use href="#a" x="297.9" y="452.8" stroke="#00ff00"/><use href="#a" x="299.6" y="454.3" stroke="#00ff00"/><use href="#a" x="300.9" y="455.1" stroke="#00ff00"/><use href="#a" x="301.4" y="454.1" stroke="#00ff00"/><use href="#a" x="303.0" y="455.7" stroke="#00ff00"/><use href="#a" x="304.5" y="456.0" stroke="#00ff00"/><use href="#a" x="305.2" y="457.1" stroke="#00ff00"/><use href="#a" x="307.4" y="458.0" stroke="#00ff00"/><use href="#a" x="307.6" y="458.2" stroke="#00ff00"/><use href="#a" x="309.2" y="459.4" stroke="#00ff00"/><use href="#a" x="309.9" y="460.4" stroke="#00ff00"/><use href="#a" x="311.4" y="460.1" stroke="#00ff00"/><use href="#a" x="311.8" y="463.1" stroke="#00ff00"/><use href="#a" x="315.0" y="462.3" stroke="#00ff00"/><use href="#a" x="314.9" y="463.4" stroke="#00ff00"/><use href="#a" x="316.6" y="463.8" stroke="#00ff00"/><use href="#a" x="318.1" y="464.6" stroke="#00ff00"/><use href="#a" x="318.5" y="464.6" stroke="#00ff00"/><use href="#a" x="319.7" y="464.2" stroke="#00ff00"/><use href="#a" x="321.3" y="467.1" stroke="#00ff00"/><use href="#a" x="321.9" y="466.6" stroke="#00ff00"/><use href="#a" x="323.1" y="468.4" stroke="#00ff00"/><use href="#a" x="324.9" y="468.5" stroke="#00ff00"/><use href="#a" x="325.9" y="469.0" stroke="#00ff00"/><use href="#a" x="326.6" y="469.6" stroke="#00ff00"/><use href="#a" x="328.5" y="469.0" stroke="#00ff00"/><use href="#a" x="328.6" y="471.5" stroke="#00ff00"/><use href="#a" x="331.0" y="472.1" stroke="#00ff00"/><use href="#a" x="332.1" y="473.1" stroke="#00ff00"/><use href="#a" x="333.8" y="473.4" stroke="#00ff00"/><use href="#a" x="335.1" y="474.8" stroke="#00ff00"/><use href="#a" x="334.4" y="475.6" stroke="#00ff00"/><use href="#a" x="336.7" y="476.0" stroke="#00ff00"/><use href="#a" x="338.6" y="477.3" stroke="#00ff00"/><use href="#a" x="337.9" y="477.1" stroke="#00ff00"/><use href="#a" x="340.6" y="478.9" stroke="#00ff00"/><use href="#a" x="341.5" y="478.5" stroke="#00ff00"/><use href="#a" x="343.0" y="479.3" stroke="#00ff00"/><use href="#a" x="344.1" y="479.8" stroke="#00ff00"/><use href="#a" x="344.9" y="480.6" stroke="#00ff00"/><use href="#a" x="346.8" y="481.7" stroke="#00ff00"/><use href="#a" x="347.1" y="482.5" stroke="#00ff00"/><use href="#a" x="348.7" y="483.0" stroke="#00ff00"/><use href="#a" x="349.9" y="483.4" stroke="#00ff00"/><use href="#a" x="351.8" y="483.3" stroke="#00ff00"/><use href="#a" x="352.1" y="484.9" stroke="#00ff00"/><use href="#a" x="353.2" y="485.7" stroke="#00ff00"/><use href="#a" x="354.6" y="485.6" stroke="#00ff00"/><use href="#a" x="356.4" y="486.2" stroke="#00ff00"/><use href="#a" x="357.0" y="486.9" stroke="#00ff00"/><use href="#a" x="358.5" y="489.0" stroke="#00ff00"/><use href="#a" x="359.7" y="489.2" stroke="#00ff00"/><use href="#a" x="361.3" y="490.6" stroke="#00ff00"/><use href="#a" x="361.2" y="491.1" stroke="#00ff00"/>
<use href="#a" x="154.4" y="366.8" stroke="#000000"/><use href="#a" x="155.0" y="367.4" stroke="#000000"/><use href="#a" x="156.8" y="368.6" stroke="#000000"/><use href="#a" x="158.5" y="368.8" stroke="#000000"/><use href="#a" x="159.8" y="370.3" stroke="#000000"/><use href="#a" x="160.9" y="370.8" stroke="#000000"/><use href="#a" x="161.6" y="371.1" stroke="#000000"/><use href="#a" x="162.8" y="372.0" stroke="#000000"/><use href="#a" x="164.4" y="373.0" stroke="#000000"/><use href="#a" x="164.2" y="374.0" stroke="#000000"/><use href="#a" x="166.8" y="375.1" stroke="#000000"/><use href="#a" x="169.9" y="374.7" stroke="#000000"/><use href="#a" x="169.4" y="375.7" stroke="#000000"/><use href="#a" x="170.5" y="375.1" stroke="#000000"/><use href="#a" x="171.7" y="377.6" stroke="#000000"/><use href="#a" x="172.8" y="377.6" stroke="#000000"/><use href="#a" x="174.5" y="379.2" stroke="#000000"/><use href="#a" x="175.6" y="378.9" stroke="#000000"/><use href="#a" x="177.2" y="381.2" stroke="#000000"/><use href="#a" x="178.0" y="381.5" stroke="#000000"/><use href="#a" x="178.7" y="381.3" stroke="#000000"/><use href="#a" x="181.5" y="382.4" stroke="#000000"/><use href="#a" x="181.4" y="383.1" stroke="#000000"/><use href="#a" x="182.8" y="384.4" stroke="#000000"/><use href="#a" x="183.6" y="384.2" stroke="#000000"/><use href="#a" x="184.2" y="384.7" stroke="#000000"/><use href="#a" x="186.1" y="385.8" stroke="#000000"/><use href="#a" x="187.9" y="386.4" stroke="#000000"/><use href="#a" x="188.0" y="388.1" stroke="#000000"/><use href="#a" x="190.2" y="387.1" stroke="#000000"/><use href="#a" x="191.6" y="388.8" stroke="#000000"/><use href="#a" x="192.3" y="389.9" stroke="#000000"/><use href="#a" x="194.2" y="390.5" stroke="#000000"/><use href="#a" x="194.8" y="391.2" stroke="#000000"/><use href="#a" x="194.8" y="391.2" stroke="#000000"/><use href="#a" x="196.5" y="393.0" stroke="#000000"/><use href="#a" x="198.2" y="393.9" stroke="#000000"/><use href="#a" x="200.1" y="394.3" stroke="#000000"/><use href="#a" x="200.4" y="394.7" stroke="#000000"/><use href="#a" x="202.6" y="395.2" stroke="#000000"/><use href="#a" x="202.8" y="395.8" stroke="#000000"/><use href="#a" x="204.7" y="396.8" stroke="#000000"/><use href="#a" x="205.3" y="398.4" stroke="#000000"/><use href="#a" x="206.5" y="398.9" stroke="#000000"/><use href="#a" x="208.1" y="400.1" stroke="#000000"/><use href="#a" x="209.1" y="400.6" stroke="#000000"/><use href="#a" x="209.6" y="400.4" stroke="#000000"/><use href="#a" x="211.9" y="400.9" stroke="#000000"/><use href="#a" x="213.6" y="401.8" stroke="#000000"/><use href="#a" x="214.1" y="402.1" stroke="#000000"/><use href="#a" x="215.3" y="403.3" stroke="#000000"/><use href="#a" x="215.7" y="404.0" stroke="#000000"/><use href="#a" x="217.4" y="404.5" stroke="#000000"/><use href="#a" x="218.0" y="405.7" stroke="#000000"/><use href="#a" x="220.3" y="406.1" stroke="#000000"/><use href="#a" x="221.2" y="407.1" stroke="#000000"/><use href="#a" x="221.5" y="407.8" stroke="#000000"/><use href="#a" x="223.1" y="407.9" stroke="#000000"/><use href="#a" x="225.3" y="409.1" stroke="#000000"/><use href="#a" x="226.1" y="410.5" stroke="#000000"/><use href="#a" x="227.9" y="409.1" stroke="#000000"/><use href="#a" x="228.4" y="411.8" stroke="#000000"/><use href="#a" x="228.6" y="412.7" stroke="#000000"/><use href="#a" x="230.5" y="412.6" stroke="#000000"/><use href="#a" x="231.3" y="413.3" stroke="#000000"/><use href="#a" x="232.0" y="414.2" stroke="#000000"/><use href="#a" x="234.2" y="414.5" stroke="#000000"/><use href="#a" x="234.9" y="416.0" stroke="#000000"/><use href="#a" x="236.7" y="416.7" stroke="#000000"/><use href="#a" x="236.7" y="416.3" stroke="#000000"/><use href="#a" x="238.7" y="419.1" stroke="#000000"/><use href="#a" x="240.8" y="418.6" stroke="#000000"/><use href="#a" x="242.3" y="420.2" stroke="#000000"/><use href="#a" x="242.5" y="419.6" stroke="#000000"/><use href="#a" x="242.9" y="421.2" stroke="#000000"/><use href="#a" x="245.5" y="423.0" stroke="#000000"/><use href="#a" x="247.0" y="421.8" stroke="#000000"/><use href="#a" x="246.8" y="422.9" stroke="#000000"/><use href="#a" x="248.6" y="423.9" stroke="#000000"/><use href="#a" x="249.5" y="425.0" stroke="#000000"/><use href="#a" x="251.0" y="425.7" stroke="#000000"/><use href="#a" x="253.3" y="426.0" stroke="#000000"/><use href="#a" x="253.9" y="426.1" stroke="#000000"/><use href="#a" x="255.0" y="427.3" stroke="#000000"/><use href="#a" x="255.7" y="427.7" stroke="#000000"/><use href="#a" x="257.2" y="428.8" stroke="#000000"/><use href="#a" x="258.8" y="429.6" stroke="#000000"/><use href="#a" x="259.4" y="429.6" stroke="#000000"/><use href="#a" x="261.6" y="430.5" stroke="#000000"/><use href="#a" x="261.4" y="431.9" stroke="#000000"/><use href="#a" x="263.2" y="433.1" stroke="#000000"/><use href="#a" x="264.1" y="433.2" stroke="#000000"/><use href="#a" x="265.0" y="433.7" stroke="#000000"/><use href="#a" x="266.3" y="435.4" stroke="#000000"/><use href="#a" x="268.2" y="434.1" stroke="#000000"/><use href="#a" x="269.5" y="436.8" stroke="#000000"/><use href="#a" x="270.5" y="436.6" stroke="#000000"/><use href="#a" x="272.2" y="437.8" stroke="#000000"/><use href="#a" x="271.9" y="437.0" stroke="#000000"/><use href="#a" x="274.3" y="438.3" stroke="#000000"/><use href="#a" x="275.7" y="438.6" stroke="#000000"/><use href="#a" x="275.7" y="441.0" stroke="#000000"/><use href="#a" x="278.9" y="440.1" stroke="#000000"/><use href="#a" x="278.7" y="441.3" stroke="#000000"/><use href="#a" x="280.1" y="442.3" stroke="#000000"/><use href="#a" x="280.7" y="443.0" stroke="#000000"/><use href="#a" x="282.3" y="444.4" stroke="#000000"/><use href="#a" x="285.0" y="444.2" stroke="#000000"/><use href="#a" x="284.5" y="444.4" stroke="#000000"/><use href="#a" x="285.4" y="446.9" stroke="#000000"/><use href="#a" x="286.8" y="447.2" stroke="#000000"/><use href="#a" x="289.1" y="446.8" stroke="#000000"/><use href="#a" x="289.0" y="448.1" stroke="#000000"/><use href="#a" x="290.7" y="448.9" stroke="#000000"/><use href="#a" x="293.1" y="449.4" stroke="#000000"/><use href="#a" x="293.4" y="449.8" stroke="#000000"/><use href="#a" x="294.7" y="451.4" stroke="#000000"/><use href="#a" x="296.8" y="451.0" stroke="#000000"/><use href="#a" x="297.4" y="452.7" stroke="#000000"/><use href="#a" x="297.1" y="452.7" stroke="#000000"/><use href="#a" x="299.8" y="453.0" stroke="#000000"/><use href="#a" x="300.3" y="455.3" stroke="#000000"/><use href="#a" x="301.9" y="455.1" stroke="#000000"/><use href="#a" x="303.4" y="456.8" stroke="#000000"/><use href="#a" x="304.8" y="455.9" stroke="#000000"/><use href="#a" x="305.7" y="457.7" stroke="#000000"/><use href="#a" x="306.5" y="458.1" stroke="#000000"/><use href="#a" x="307.7" y="459.4" stroke="#000000"/><use href="#a" x="308.0" y="459.0" stroke="#000000"/><use href="#a" x="310.5" y="458.9" stroke="#000000"/><use href="#a" x="311.0" y="460.4" stroke="#000000"/><use href="#a" x="312.0" y="461.6" stroke="#000000"/><use href="#a" x="313.2" y="462.4" stroke="#000000"/><use href="#a" x="314.9" y="462.2" stroke="#000000"/><use href="#a" x="314.7" y="462.7" stroke="#000000"/><use href="#a" x="317.8" y="464.0" stroke="#000000"/><use href="#a" x="318.3" y="465.3" stroke="#000000"/><use href="#a" x="319.6" y="465.6" stroke="#000000"/><use href="#a" x="321.6" y="465.8" stroke="#000000"/><use href="#a" x="322.0" y="466.6" stroke="#000000"/><use href="#a" x="323.1" y="467.6" stroke="#000000"/><use href="#a" x="323.9" y="467.9" stroke="#000000"/><use href="#a" x="326.1" y="468.7" stroke="#000000"/><use href="#a" x="327.0" y="469.5" stroke="#000000"/><use href="#a" x="327.8" y="470.8" stroke="#000000"/><use href="#a" x="329.6" y="470.8" stroke="#000000"/><use href="#a" x="331.3" y="472.3" stroke="#000000"/><use href="#a" x="331.8" y="471.4" stroke="#000000"/><use href="#a" x="332.7" y="473.1" stroke="#000000"/><use href="#a" x="335.1" y="474.5" stroke="#000000"/><use href="#a" x="336.3" y="474.6" stroke="#000000"/><use href="#a" x="336.8" y="474.7" stroke="#000000"/><use href="#a" x="338.2" y="475.9" stroke="#000000"/><use href="#a" x="339.6" y="477.8" stroke="#000000"/><use href="#a" x="339.6" y="478.5" stroke="#000000"/><use href="#a" x="342.8" y="479.4" stroke="#000000"/><use href="#a" x="342.6" y="478.9" stroke="#000000"/><use href="#a" x="344.0" y="480.9" stroke="#000000"/><use href="#a" x="347.0" y="480.7" stroke="#000000"/><use href="#a" x="346.7" y="482.0" stroke="#000000"/><use href="#a" x="348.0" y="481.6" stroke="#000000"/><use href="#a" x="348.7" y="482.8" stroke="#000000"/><use href="#a" x="349.6" y="482.5" stroke="#000000"/><use href="#a" x="350.7" y="484.3" stroke="#000000"/><use href="#a" x="352.4" y="484.7" stroke="#000000"/><use href="#a" x="353.7" y="485.7" stroke="#000000"/><use href="#a" x="354.3" y="485.5" stroke="#000000"/><use href="#a" x="354.4" y="485.7" stroke="#000000"/><use href="#a" x="356.4" y="487.4" stroke="#000000"/><use href="#a" x="358.3" y="489.5" stroke="#000000"/><use href="#a" x="360.3" y="488.6" stroke="#000000"/><use href="#a" x="360.0" y="489.8" stroke="#000000"/><use href="#a" x="362.1" y="490.0" stroke="#000000"/>
<use href="#a" x="155.4" y="366.1" stroke="#ffff00"/><use href="#a" x="156.3" y="368.7" stroke="#ffff00"/><use href="#a" x="157.2" y="369.5" stroke="#ffff00"/><use href="#a" x="157.3" y="368.6" stroke="#ffff00"/><use href="#a" x="160.0" y="370.8" stroke="#ffff00"/><use href="#a" x="161.4" y="370.7" stroke="#ffff00"/><use href="#a" x="161.9" y="371.4" stroke="#ffff00"/><use href="#a" x="163.3" y="371.5" stroke="#ffff00"/><use href="#a" x="164.6" y="373.2" stroke="#ffff00"/><use href="#a" x="165.8" y="373.5" stroke="#ffff00"/><use href="#a" x="165.9" y="373.2" stroke="#ffff00"/><use href="#a" x="168.1" y="375.2" stroke="#ffff00"/><use href="#a" x="169.5" y="374.9" stroke="#ffff00"/><use href="#a" x="170.2" y="376.1" stroke="#ffff00"/><use href="#a" x="171.3" y="377.3" stroke="#ffff00"/><use href="#a" x="174.2" y="378.3" stroke="#ffff00"/><use href="#a" x="175.2" y="379.5" stroke="#ffff00"/><use href="#a" x="175.0" y="379.2" stroke="#ffff00"/><use href="#a" x="176.4" y="380.8" stroke="#ffff00"/><use href="#a" x="177.2" y="382.1" stroke="#ffff00"/><use href="#a" x="178.4" y="381.7" stroke="#ffff00"/><use href="#a" x="180.5" y="382.7" stroke="#ffff00"/><use href="#a" x="181.5" y="382.6" stroke="#ffff00"/><use href="#a" x="182.9" y="383.6" stroke="#ffff00"/><use href="#a" x="183.9" y="384.7" stroke="#ffff00"/><use href="#a" x="185.2" y="384.6" stroke="#ffff00"/><use href="#a" x="186.3" y="385.5" stroke="#ffff00"/><use href="#a" x="187.7" y="386.4" stroke="#ffff00"/><use href="#a" x="189.3" y="387.5" stroke="#ffff00"/><use href="#a" x="189.3" y="389.1" stroke="#ffff00"/><use href="#a" x="190.2" y="388.9" stroke="#ffff00"/><use href="#a" x="192.1" y="390.8" stroke="#ffff00"/><use href="#a" x="192.7" y="390.1" stroke="#ffff00"/><use href="#a" x="193.8" y="391.2" stroke="#ffff00"/><use href="#a" x="196.2" y="392.5" stroke="#ffff00"/><use href="#a" x="197.4" y="392.0" stroke="#ffff00"/><use href="#a" x="196.6" y="394.0" stroke="#ffff00"/><use href="#a" x="200.7" y="393.7" stroke="#ffff00"/><use href="#a" x="199.9" y="395.1" stroke="#ffff00"/><use href="#a" x="202.2" y="394.4" stroke="#ffff00"/><use href="#a" x="201.7" y="395.9" stroke="#ffff00"/><use href="#a" x="203.9" y="397.8" stroke="#ffff00"/><use href="#a" x="205.1" y="397.6" stroke="#ffff00"/><use href="#a" x="207.2" y="398.8" stroke="#ffff00"/><use href="#a" x="207.1" y="399.3" stroke="#ffff00"/><use href="#a" x="208.4" y="400.4" stroke="#ffff00"/><use href="#a" x="209.8" y="402.3" stroke="#ffff00"/><use href="#a" x="212.0" y="401.6" stroke="#ffff00"/><use href="#a" x="212.9" y="402.5" stroke="#ffff00"/><use href="#a" x="213.8" y="401.8" stroke="#ffff00"/><use href="#a" x="215.1" y="403.5" stroke="#ffff00"/><use href="#a" x="216.5" y="403.0" stroke="#ffff00"/><use href="#a" x="216.9" y="405.4" stroke="#ffff00"/><use href="#a" x="218.9" y="406.1" stroke="#ffff00"/><use href="#a" x="220.5" y="405.4" stroke="#ffff00"/><use href="#a" x="220.4" y="406.8" stroke="#ffff00"/><use href="#a" x="222.0" y="407.3" stroke="#ffff00"/><use href="#a" x="223.9" y="408.9" stroke="#ffff00"/><use href="#a" x="223.9" y="409.6" stroke="#ffff00"/><use href="#a" x="227.0" y="409.9" stroke="#ffff00"/><use href="#a" x="227.6" y="410.3" stroke="#ffff00"/><use href="#a" x="227.7" y="410.9" stroke="#ffff00"/><use href="#a" x="229.2" y="413.0" stroke="#ffff00"/><use href="#a" x="229.9" y="412.9" stroke="#ffff00"/><use href="#a" x="232.2" y="413.9" stroke="#ffff00"/><use href="#a" x="232.3" y="413.6" stroke="#ffff00"/><use href="#a" x="234.5" y="415.5" stroke="#ffff00"/><use href="#a" x="236.7" y="416.2" stroke="#ffff00"/><use href="#a" x="237.8" y="416.0" stroke="#ffff00"/><use href="#a" x="236.5" y="417.3" stroke="#ffff00"/><use href="#a" x="238.1" y="418.1" stroke="#ffff00"/><use href="#a" x="240.1" y="418.6" stroke="#ffff00"/><use href="#a" x="241.3" y="419.8" stroke="#ffff00"/><use href="#a" x="243.3" y="420.9" stroke="#ffff00"/><use href="#a" x="244.1" y="420.5" stroke="#ffff00"/><use href="#a" x="244.7" y="421.5" stroke="#ffff00"/><use href="#a" x="246.0" y="422.6" stroke="#ffff00"/><use href="#a" x="247.4" y="424.0" stroke="#ffff00"/><use href="#a" x="249.3" y="424.8" stroke="#ffff00"/><use href="#a" x="249.9" y="424.6" stroke="#ffff00"/><use href="#a" x="252.0" y="424.6" stroke="#ffff00"/><use href="#a" x="252.1" y="425.4" stroke="#ffff00"/><use href="#a" x="253.3" y="426.3" stroke="#ffff00"/><use href="#a" x="255.0" y="427.6" stroke="#ffff00"/><use href="#a" x="256.4" y="427.4" stroke="#ffff00"/><use href="#a" x="257.7" y="427.8" stroke="#ffff00"/><use href="#a" x="259.2" y="430.1" stroke="#ffff00"/><use href="#a" x="259.6" y="429.0" stroke="#ffff00"/><use href="#a" x="260.7" y="429.8" stroke="#ffff00"/><use href="#a" x="262.3" y="431.5" stroke="#ffff00"/><use href="#a" x="264.1" y="432.2" stroke="#ffff00"/><use href="#a" x="264.3" y="433.3" stroke="#ffff00"/><use href="#a" x="266.1" y="433.5" stroke="#ffff00"/><use href="#a" x="265.9" y="434.2" stroke="#ffff00"/><use href="#a" x="268.4" y="435.5" stroke="#ffff00"/><use href="#a" x="269.0" y="436.0" stroke="#ffff00"/><use href="#a" x="271.4" y="436.6" stroke="#ffff00"/><use href="#a" x="271.3" y="437.5" stroke="#ffff00"/><use href="#a" x="272.6" y="437.7" stroke="#ffff00"/><use href="#a" x="274.4" y="439.5" stroke="#ffff00"/><use href="#a" x="275.1" y="439.8" stroke="#ffff00"/><use href="#a" x="276.5" y="440.4" stroke="#ffff00"/><use href="#a" x="277.0" y="440.9" stroke="#ffff00"/><use href="#a" x="277.4" y="442.2" stroke="#ffff00"/><use href="#a" x="280.7" y="441.3" stroke="#ffff00"/><use href="#a" x="280.9" y="443.6" stroke="#ffff00"/><use href="#a" x="282.0" y="443.5" stroke="#ffff00"/><use href="#a" x="284.8" y="443.2" stroke="#ffff00"/><use href="#a" x="284.7" y="445.9" stroke="#ffff00"/><use href="#a" x="286.5" y="445.9" stroke="#ffff00"/><use href="#a" x="286.7" y="447.0" stroke="#ffff00"/><use href="#a" x="289.4" y="448.1" stroke="#ffff00"/><use href="#a" x="289.8" y="448.8" stroke="#ffff00"/><use href="#a" x="289.8" y="449.2" stroke="#ffff00"/><use href="#a" x="293.0" y="450.1" stroke="#ffff00"/><use href="#a" x="293.4" y="449.9" stroke="#ffff00"/><use href="#a" x="294.4" y="450.2" stroke="#ffff00"/><use href="#a" x="296.2" y="452.4" stroke="#ffff00"/><use href="#a" x="296.8" y="450.8" stroke="#ffff00"/><use href="#a" x="299.2" y="453.9" stroke="#ffff00"/><use href="#a" x="299.5" y="453.8" stroke="#ffff00"/><use href="#a" x="300.3" y="454.6" stroke="#ffff00"/><use href="#a" x="301.6" y="455.4" stroke="#ffff00"/><use href="#a" x="302.7" y="455.3" stroke="#ffff00"/><use href="#a" x="304.7" y="456.8" stroke="#ffff00"/><use href="#a" x="304.6" y="457.4" stroke="#ffff00"/><use href="#a" x="304.9" y="458.4" stroke="#ffff00"/><use href="#a" x="307.7" y="459.4" stroke="#ffff00"/><use href="#a" x="309.7" y="458.6" stroke="#ffff00"/><use href="#a" x="311.0" y="459.7" stroke="#ffff00"/><use href="#a" x="310.8" y="460.6" stroke="#ffff00"/><use href="#a" x="312.6" y="461.9" stroke="#ffff00"/><use href="#a" x="313.4" y="462.0" stroke="#ffff00"/><use href="#a" x="315.5" y="462.7" stroke="#ffff00"/><use href="#a" x="315.6" y="464.4" stroke="#ffff00"/><use href="#a" x="317.4" y="464.4" stroke="#ffff00"/><use href="#a" x="317.7" y="464.3" stroke="#ffff00"/><use href="#a" x="320.3" y="464.6" stroke="#ffff00"/><use href="#a" x="321.4" y="466.2" stroke="#ffff00"/><use href="#a" x="322.8" y="467.4" stroke="#ffff00"/><use href="#a" x="323.4" y="467.9" stroke="#ffff00"/><use href="#a" x="324.5" y="468.8" stroke="#ffff00"/><use href="#a" x="325.1" y="469.1" stroke="#ffff00"/><use href="#a" x="326.8" y="469.0" stroke="#ffff00"/><use href="#a" x="326.9" y="470.5" stroke="#ffff00"/><use href="#a" x="329.9" y="471.3" stroke="#ffff00"/><use href="#a" x="330.3" y="471.9" stroke="#ffff00"/><use href="#a" x="332.0" y="472.9" stroke="#ffff00"/><use href="#a" x="333.3" y="472.8" stroke="#ffff00"/><use href="#a" x="333.3" y="474.9" stroke="#ffff00"/><use href="#a" x="335.6" y="475.3" stroke="#ffff00"/><use href="#a" x="336.1" y="477.4" stroke="#ffff00"/><use href="#a" x="337.9" y="475.2" stroke="#ffff00"/><use href="#a" x="338.6" y="476.6" stroke="#ffff00"/><use href="#a" x="340.6" y="477.4" stroke="#ffff00"/><use href="#a" x="342.8" y="478.5" stroke="#ffff00"/><use href="#a" x="342.0" y="480.2" stroke="#ffff00"/><use href="#a" x="343.9" y="479.6" stroke="#ffff00"/><use href="#a" x="344.6" y="481.6" stroke="#ffff00"/><use href="#a" x="346.9" y="482.0" stroke="#ffff00"/><use href="#a" x="347.9" y="483.4" stroke="#ffff00"/><use href="#a" x="349.4" y="482.8" stroke="#ffff00"/><use href="#a" x="349.2" y="483.1" stroke="#ffff00"/><use href="#a" x="349.7" y="484.8" stroke="#ffff00"/><use href="#a" x="351.3" y="483.8" stroke="#ffff00"/><use href="#a" x="354.1" y="484.5" stroke="#ffff00"/><use href="#a" x="354.1" y="487.6" stroke="#ffff00"/><use href="#a" x="356.1" y="487.6" stroke="#ffff00"/><use href="#a" x="356.9" y="487.0" stroke="#ffff00"/><use href="#a" x="357.4" y="488.4" stroke="#ffff00"/><use href="#a" x="358.9" y="488.8" stroke="#ffff00"/><use href="#a" x="361.4" y="488.5" stroke="#ffff00"/><use href="#a" x="362.3" y="490.7" stroke="#ffff00"/>
<use href="#a" x="154.3" y="365.8" stroke="#00ffff"/><use href="#a" x="156.4" y="367.6" stroke="#00ffff"/><use href="#a" x="157.4" y="367.8" stroke="#00ffff"/><use href="#a" x="159.0" y="368.7" stroke="#00ffff"/><use href="#a" x="159.1" y="370.5" stroke="#00ffff"/><use href="#a" x="161.5" y="371.2" stroke="#00ffff"/><use href="#a" x="163.8" y="371.8" stroke="#00ffff"/><use href="#a" x="164.2" y="371.8" stroke="#00ffff"/><use href="#a" x="164.6" y="373.0" stroke="#00ffff"/><use href="#a" x="165.1" y="373.3" stroke="#00ffff"/><use href="#a" x="166.6" y="373.8" stroke="#00ffff"/><use href="#a" x="168.0" y="375.6" stroke="#00ffff"/><use href="#a" x="168.2" y="374.4" stroke="#00ffff"/><use href="#a" x="169.6" y="376.0" stroke="#00ffff"/><use href="#a" x="171.7" y="377.6" stroke="#00ffff"/><use href="#a" x="173.1" y="379.4" stroke="#00ffff"/><use href="#a" x="174.5" y="378.0" stroke="#00ffff"/><use href="#a" x="175.3" y="379.7" stroke="#00ffff"/><use href="#a" x="176.8" y="380.6" stroke="#00ffff"/><use href="#a" x="178.9" y="382.0" stroke="#00ffff"/><use href="#a" x="178.9" y="382.1" stroke="#00ffff"/><use href="#a" x="180.3" y="382.3" stroke="#00ffff"/><use href="#a" x="181.3" y="383.2" stroke="#00ffff"/><use href="#a" x="182.2" y="383.7" stroke="#00ffff"/><use href="#a" x="183.2" y="384.1" stroke="#00ffff"/><use href="#a" x="185.0" y="385.5" stroke="#00ffff"/><use href="#a" x="186.8" y="385.0" stroke="#00ffff"/><use href="#a" x="187.8" y="387.8" stroke="#00ffff"/><use href="#a" x="187.8" y="387.7" stroke="#00ffff"/><use href="#a" x="189.0" y="388.9" stroke="#00ffff"/><use href="#a" x="190.8" y="388.9" stroke="#00ffff"/><use href="#a" x="192.4" y="389.7" stroke="#00ffff"/><use href="#a" x="193.3" y="390.2" stroke="#00ffff"/><use href="#a" x="194.5" y="391.5" stroke="#00ffff"/><use href="#a" x="195.8" y="391.5" stroke="#00ffff"/><use href="#a" x="195.8" y="393.5" stroke="#00ffff"/><use href="#a" x="198.6" y="392.1" stroke="#00ffff"/><use href="#a" x="199.4" y="394.7" stroke="#00ffff"/><use href="#a" x="200.9" y="394.8" stroke="#00ffff"/><use href="#a" x="201.9" y="395.4" stroke="#00ffff"/><use href="#a" x="202.7" y="395.9" stroke="#00ffff"/><use href="#a" x="204.8" y="397.5" stroke="#00ffff"/><use href="#a" x="205.6" y="397.9" stroke="#00ffff"/><use href="#a" x="207.0" y="397.7" stroke="#00ffff"/><use href="#a" x="207.3" y="398.7" stroke="#00ffff"/><use href="#a" x="209.6" y="399.9" stroke="#00ffff"/><use href="#a" x="209.9" y="401.6" stroke="#00ffff"/><use href="#a" x="210.5" y="401.7" stroke="#00ffff"/><use href="#a" x="212.1" y="402.8" stroke="#00ffff"/><use href="#a" x="213.9" y="402.1" stroke="#00ffff"/><use href="#a" x="215.1" y="402.7" stroke="#00ffff"/><use href="#a" x="215.8" y="403.9" stroke="#00ffff"/><use href="#a" x="217.0" y="405.3" stroke="#00ffff"/><use href="#a" x="219.1" y="406.3" stroke="#00ffff"/><use href="#a" x="220.2" y="406.3" stroke="#00ffff"/><use href="#a" x="222.0" y="406.6" stroke="#00ffff"/><use href="#a" x="221.8" y="408.5" stroke="#00ffff"/><use href="#a" x="222.8" y="409.0" stroke="#00ffff"/><use href="#a" x="225.2" y="409.3" stroke="#00ffff"/><use href="#a" x="225.6" y="410.0" stroke="#00ffff"/><use href="#a" x="227.4" y="411.2" stroke="#00ffff"/><use href="#a" x="227.1" y="413.0" stroke="#00ffff"/><use href="#a" x="230.0" y="412.2" stroke="#00ffff"/><use href="#a" x="230.6" y="413.8" stroke="#00ffff"/><use href="#a" x="231.9" y="413.3" stroke="#00ffff"/><use href="#a" x="233.2" y="414.4" stroke="#00ffff"/><use href="#a" x="235.4" y="415.8" stroke="#00ffff"/><use href="#a" x="234.2" y="415.0" stroke="#00ffff"/><use href="#a" x="236.2" y="417.7" stroke="#00ffff"/><use href="#a" x="237.9" y="417.8" stroke="#00ffff"/><use href="#a" x="239.1" y="418.3" stroke="#00ffff"/><use href="#a" x="239.8" y="418.5" stroke="#00ffff"/><use href="#a" x="241.7" y="419.8" stroke="#00ffff"/><use href="#a" x="243.1" y="420.4" stroke="#00ffff"/><use href="#a" x="243.4" y="421.6" stroke="#00ffff"/><use href="#a" x="244.8" y="421.6" stroke="#00ffff"/><use href="#a" x="246.0" y="422.0" stroke="#00ffff"/><use href="#a" x="246.9" y="423.6" stroke="#00ffff"/><use href="#a" x="248.4" y="424.5" stroke="#00ffff"/><use href="#a" x="249.8" y="424.8" stroke="#00ffff"/><use href="#a" x="252.1" y="424.3" stroke="#00ffff"/><use href="#a" x="251.6" y="426.3" stroke="#00ffff"/><use href="#a" x="254.6" y="427.5" stroke="#00ffff"/><use href="#a" x="254.6" y="427.9" stroke="#00ffff"/><use href="#a" x="255.9" y="427.6" stroke="#00ffff"/><use href="#a" x="257.2" y="428.9" stroke="#00ffff"/><use href="#a" x="258.7" y="430.7" stroke="#00ffff"/><use href="#a" x="259.6" y="430.4" stroke="#00ffff"/><use href="#a" x="260.4" y="430.4" stroke="#00ffff"/><use href="#a" x="262.0" y="431.4" stroke="#00ffff"/><use href="#a" x="262.8" y="432.2" stroke="#00ffff"/><use href="#a" x="264.2" y="432.2" stroke="#00ffff"/><use href="#a" x="265.2" y="434.9" stroke="#00ffff"/><use href="#a" x="267.3" y="435.2" stroke="#00ffff"/><use href="#a" x="267.8" y="435.5" stroke="#00ffff"/><use href="#a" x="268.9" y="436.5" stroke="#00ffff"/><use href="#a" x="271.3" y="437.1" stroke="#00ffff"/><use href="#a" x="271.6" y="437.3" stroke="#00ffff"/><use href="#a" x="272.9" y="438.4" stroke="#00ffff"/><use href="#a" x="274.8" y="437.6" stroke="#00ffff"/><use href="#a" x="275.5" y="439.0" stroke="#00ffff"/><use href="#a" x="275.7" y="439.8" stroke="#00ffff"/><use href="#a" x="278.0" y="441.3" stroke="#00ffff"/><use href="#a" x="279.0" y="441.7" stroke="#00ffff"/><use href="#a" x="280.2" y="441.7" stroke="#00ffff"/><use href="#a" x="280.7" y="442.1" stroke="#00ffff"/><use href="#a" x="282.6" y="444.0" stroke="#00ffff"/><use href="#a" x="284.5" y="444.3" stroke="#00ffff"/><use href="#a" x="285.6" y="445.0" stroke="#00ffff"/><use href="#a" x="285.8" y="445.3" stroke="#00ffff"/><use href="#a" x="286.8" y="446.4" stroke="#00ffff"/><use href="#a" x="288.5" y="447.6" stroke="#00ffff"/><use href="#a" x="290.3" y="448.5" stroke="#00ffff"/><use href="#a" x="290.0" y="448.4" stroke="#00ffff"/><use href="#a" x="291.8" y="449.7" stroke="#00ffff"/><use href="#a" x="293.4" y="450.7" stroke="#00ffff"/><use href="#a" x="295.2" y="450.3" stroke="#00ffff"/><use href="#a" x="295.2" y="452.4" stroke="#00ffff"/><use href="#a" x="296.9" y="452.1" stroke="#00ffff"/><use href="#a" x="297.9" y="452.6" stroke="#00ffff"/><use href="#a" x="300.2" y="454.4" stroke="#00ffff"/><use href="#a" x="301.1" y="453.9" stroke="#00ffff"/><use href="#a" x="300.5" y="455.1" stroke="#00ffff"/><use href="#a" x="302.6" y="455.9" stroke="#00ffff"/><use href="#a" x="304.4" y="457.8" stroke="#00ffff"/><use href="#a" x="305.0" y="457.6" stroke="#00ffff"/><use href="#a" x="306.9" y="458.0" stroke="#00ffff"/><use href="#a" x="306.3" y="458.4" stroke="#00ffff"/><use href="#a" x="308.4" y="458.7" stroke="#00ffff"/><use href="#a" x="309.9" y="461.0" stroke="#00ffff"/><use href="#a" x="311.9" y="461.0" stroke="#00ffff"/><use href="#a" x="312.4" y="461.8" stroke="#00ffff"/><use href="#a" x="313.9" y="462.4" stroke="#00ffff"/><use href="#a" x="315.7" y="462.5" stroke="#00ffff"/><use href="#a" x="315.1" y="464.1" stroke="#00ffff"/><use href="#a" x="317.7" y="464.7" stroke="#00ffff"/><use href="#a" x="318.4" y="464.7" stroke="#00ffff"/><use href="#a" x="319.7" y="466.0" stroke="#00ffff"/><use href="#a" x="320.6" y="467.3" stroke="#00ffff"/><use href="#a" x="323.1" y="467.4" stroke="#00ffff"/><use href="#a" x="324.1" y="467.5" stroke="#00ffff"/><use href="#a" x="324.8" y="468.8" stroke="#00ffff"/><use href="#a" x="325.0" y="469.0" stroke="#00ffff"/><use href="#a" x="327.1" y="469.5" stroke="#00ffff"/><use href="#a" x="328.3" y="470.7" stroke="#00ffff"/><use href="#a" x="329.5" y="471.1" stroke="#00ffff"/><use href="#a" x="331.2" y="471.9" stroke="#00ffff"/><use href="#a" x="332.0" y="472.3" stroke="#00ffff"/><use href="#a" x="332.5" y="474.6" stroke="#00ffff"/><use href="#a" x="335.0" y="474.5" stroke="#00ffff"/><use href="#a" x="335.4" y="475.5" stroke="#00ffff"/><use href="#a" x="336.9" y="476.4" stroke="#00ffff"/><use href="#a" x="337.8" y="476.8" stroke="#00ffff"/><use href="#a" x="338.0" y="476.4" stroke="#00ffff"/><use href="#a" x="341.6" y="476.2" stroke="#00ffff"/><use href="#a" x="342.1" y="479.2" stroke="#00ffff"/><use href="#a" x="342.5" y="477.9" stroke="#00ffff"/><use href="#a" x="343.5" y="479.8" stroke="#00ffff"/><use href="#a" x="345.6" y="481.0" stroke="#00ffff"/><use href="#a" x="346.0" y="481.2" stroke="#00ffff"/><use href="#a" x="348.3" y="481.3" stroke="#00ffff"/><use href="#a" x="348.1" y="483.0" stroke="#00ffff"/><use href="#a" x="349.3" y="481.7" stroke="#00ffff"/><use href="#a" x="350.7" y="484.4" stroke="#00ffff"/><use href="#a" x="352.3" y="485.5" stroke="#00ffff"/><use href="#a" x="353.7" y="485.3" stroke="#00ffff"/><use href="#a" x="355.8" y="486.1" stroke="#00ffff"/><use href="#a" x="356.0" y="486.2" stroke="#00ffff"/><use href="#a" x="356.7" y="487.0" stroke="#00ffff"/><use href="#a" x="357.7" y="488.1" stroke="#00ffff"/><use href="#a" x="359.8" y="488.5" stroke="#00ffff"/><use href="#a" x="360.9" y="489.5" stroke="#00ffff"/><use href="#a" x="362.4" y="490.6" stroke="#00ffff"/>
<use href="#s" x="154.9" y="366.7"/><use href="#s" x="155.1" y="367.3"/><use href="#s" x="154.8" y="368.1"/><use href="#s" x="155.9" y="367.4"/><use href="#s" x="155.8" y="368.0"/><use href="#s" x="156.8" y="368.0"/><use href="#s" x="157.1" y="368.2"/><use href="#s" x="157.4" y="368.7"/><use href="#s" x="157.8" y="369.2"/><use href="#s" x="158.3" y="369.2"/><use href="#s" x="158.9" y="369.8"/><use href="#s" x="159.4" y="369.8"/><use href="#s" x="159.5" y="369.7"/><use href="#s" x="159.9" y="370.4"/><use href="#s" x="160.5" y="370.3"/><use href="#s" x="160.4" y="370.2"/><use href="#s" x="161.3" y="371.2"/><use href="#s" x="161.7" y="370.7"/><use href="#s" x="161.9" y="371.5"/><use href="#s" x="162.1" y="371.7"/><use href="#s" x="162.7" y="371.6"/><use href="#s" x="162.8" y="372.4"/><use href="#s" x="163.7" y="372.1"/><use href="#s" x="163.6" y="372.9"/><use href="#s" x="164.6" y="372.7"/><use href="#s" x="165.3" y="373.0"/><use href="#s" x="164.8" y="373.7"/><use href="#s" x="165.5" y="373.7"/><use href="#s" x="166.0" y="373.5"/><use href="#s" x="166.0" y="374.0"/><use href="#s" x="167.3" y="373.9"/><use href="#s" x="167.7" y="374.6"/><use href="#s" x="167.2" y="374.9"/><use href="#s" x="168.2" y="374.7"/><use href="#s" x="167.6" y="375.4"/><use href="#s" x="168.4" y="375.7"/><use href="#s" x="168.5" y="375.7"/><use href="#s" x="169.3" y="375.4"/><use href="#s" x="169.9" y="376.3"/><use href="#s" x="170.2" y="376.0"/><use href="#s" x="170.9" y="376.1"/><use href="#s" x="171.4" y="377.2"/><use href="#s" x="172.2" y="377.6"/><use href="#s" x="172.1" y="377.6"/><use href="#s" x="172.4" y="377.2"/><use href="#s" x="173.3" y="378.2"/><use href="#s" x="173.1" y="377.7"/><use href="#s" x="174.2" y="378.6"/><use href="#s" x="173.5" y="378.9"/><use href="#s" x="175.1" y="378.9"/><use href="#s" x="174.9" y="379.0"/><use href="#s" x="174.9" y="379.8"/><use href="#s" x="176.8" y="379.7"/><use href="#s" x="175.9" y="380.2"/><use href="#s" x="176.2" y="380.4"/><use href="#s" x="177.1" y="379.9"/><use href="#s" x="176.7" y="380.6"/><use href="#s" x="177.9" y="381.0"/><use href="#s" x="178.5" y="380.5"/><use href="#s" x="178.6" y="381.1"/><use href="#s" x="178.8" y="381.7"/><use href="#s" x="178.7" y="381.7"/><use href="#s" x="179.0" y="382.2"/><use href="#s" x="179.6" y="382.1"/><use href="#s" x="180.4" y="382.3"/><use href="#s" x="181.3" y="382.5"/><use href="#s" x="181.5" y="383.2"/><use href="#s" x="181.1" y="383.2"/><use href="#s" x="181.6" y="383.4"/><use href="#s" x="182.2" y="384.6"/><use href="#s" x="182.6" y="384.7"/><use href="#s" x="183.3" y="383.6"/><use href="#s" x="182.5" y="384.8"/><use href="#s" x="183.0" y="385.1"/><use href="#s" x="184.8" y="385.2"/><use href="#s" x="184.6" y="385.1"/><use href="#s" x="185.3" y="385.3"/><use href="#s" x="185.3" y="385.5"/><use href="#s" x="186.5" y="385.6"/><use href="#s" x="186.5" y="385.6"/><use href="#s" x="186.4" y="385.8"/><use href="#s" x="187.0" y="387.0"/><use href="#s" x="187.7" y="386.7"/><use href="#s" x="188.2" y="387.0"/><use href="#s" x="188.5" y="387.5"/><use href="#s" x="189.0" y="386.4"/><use href="#s" x="188.5" y="388.3"/><use href="#s" x="189.5" y="389.2"/><use href="#s" x="189.8" y="388.1"/><use href="#s" x="191.1" y="388.9"/><use href="#s" x="191.7" y="389.1"/><use href="#s" x="191.0" y="389.4"/><use href="#s" x="191.1" y="389.1"/><use href="#s" x="191.6" y="389.5"/><use href="#s" x="192.7" y="389.6"/><use href="#s" x="192.9" y="389.8"/><use href="#s" x="193.6" y="388.9"/><use href="#s" x="193.4" y="390.6"/><use href="#s" x="193.4" y="391.3"/><use href="#s" x="194.4" y="391.7"/><use href="#s" x="195.2" y="391.6"/><use href="#s" x="195.0" y="390.9"/><use href="#s" x="195.4" y="391.5"/><use href="#s" x="196.1" y="391.7"/><use href="#s" x="197.9" y="391.4"/><use href="#s" x="197.3" y="392.2"/><use href="#s" x="197.0" y="393.2"/><use href="#s" x="197.5" y="392.3"/><use href="#s" x="198.1" y="393.1"/><use href="#s" x="197.2" y="393.5"/><use href="#s" x="198.1" y="393.3"/><use href="#s" x="199.4" y="394.1"/><use href="#s" x="199.4" y="395.3"/><use href="#s" x="200.1" y="394.1"/><use href="#s" x="200.4" y="394.6"/><use href="#s" x="199.5" y="394.0"/><use href="#s" x="200.3" y="396.3"/><use href="#s" x="201.4" y="395.2"/><use href="#s" x="201.6" y="396.1"/><use href="#s" x="202.3" y="396.8"/><use href="#s" x="203.2" y="397.0"/><use href="#s" x="203.0" y="396.5"/><use href="#s" x="203.3" y="396.5"/><use href="#s" x="202.9" y="396.5"/><use href="#s" x="203.8" y="396.7"/><use href="#s" x="205.4" y="397.4"/><use href="#s" x="205.8" y="398.0"/><use href="#s" x="206.0" y="398.3"/><use href="#s" x="205.5" y="398.5"/><use href="#s" x="206.1" y="397.9"/><use href="#s" x="207.4" y="399.8"/><use href="#s" x="206.5" y="399.8"/><use href="#s" x="208.0" y="398.5"/><use href="#s" x="208.1" y="399.4"/><use href="#s" x="208.5" y="399.2"/><use href="#s" x="207.9" y="399.7"/><use href="#s" x="209.6" y="400.4"/><use href="#s" x="209.9" y="400.8"/><use href="#s" x="209.3" y="400.4"/><use href="#s" x="210.5" y="401.3"/><use href="#s" x="210.8" y="401.2"/><use href="#s" x="211.2" y="402.4"/><use href="#s" x="210.1" y="401.4"/><use href="#s" x="213.4" y="401.8"/><use href="#s" x="211.1" y="401.9"/><use href="#s" x="211.8" y="401.7"/><use href="#s" x="213.2" y="403.4"/><use href="#s" x="213.8" y="403.0"/><use href="#s" x="214.5" y="402.9"/><use href="#s" x="213.7" y="403.0"/><use href="#s" x="214.9" y="403.1"/><use href="#s" x="214.7" y="403.3"/><use href="#s" x="214.5" y="403.1"/><use href="#s" x="215.8" y="403.8"/><use href="#s" x="216.3" y="405.2"/><use href="#s" x="216.9" y="404.5"/><use href="#s" x="216.3" y="404.0"/><use href="#s" x="217.7" y="404.4"/><use href="#s" x="218.2" y="404.5"/><use href="#s" x="218.4" y="405.4"/><use href="#s" x="219.3" y="405.4"/><use href="#s" x="218.8" y="406.1"/><use href="#s" x="219.5" y="407.3"/><use href="#s" x="219.7" y="406.1"/><use href="#s" x="220.1" y="407.0"/><use href="#s" x="220.8" y="407.4"/><use href="#s" x="220.1" y="408.8"/><use href="#s" x="222.7" y="407.4"/><use href="#s" x="221.1" y="407.7"/><use href="#s" x="222.6" y="406.3"/><use href="#s" x="222.7" y="407.1"/><use href="#s" x="223.4" y="409.3"/><use href="#s" x="224.2" y="407.5"/><use href="#s" x="224.8" y="409.4"/><use href="#s" x="224.0" y="409.4"/><use href="#s" x="225.7" y="409.1"/><use href="#s" x="225.1" y="409.1"/><use href="#s" x="226.3" y="408.3"/><use href="#s" x="226.9" y="409.3"/><use href="#s" x="226.9" y="409.1"/><use href="#s" x="226.0" y="410.1"/><use href="#s" x="227.6" y="409.6"/><use href="#s" x="227.9" y="410.5"/><use href="#s" x="228.7" y="411.0"/><use href="#s" x="228.6" y="411.3"/><use href="#s" x="229.9" y="411.4"/><use href="#s" x="229.0" y="413.4"/><use href="#s" x="229.5" y="412.7"/><use href="#s" x="229.3" y="412.5"/><use href="#s" x="228.6" y="412.7"/><use href="#s" x="230.2" y="411.8"/><use href="#s" x="230.0" y="414.0"/><use href="#s" x="231.8" y="412.2"/><use href="#s" x="233.2" y="413.1"/><use href="#s" x="232.0" y="414.0"/><use href="#s" x="231.8" y="412.9"/><use href="#s" x="232.5" y="415.2"/><use href="#s" x="234.2" y="413.4"/><use href="#s" x="234.7" y="414.8"/><use href="#s" x="234.6" y="415.1"/><use href="#s" x="235.0" y="414.5"/><use href="#s" x="234.4" y="415.0"/><use href="#s" x="235.2" y="416.2"/><use href="#s" x="234.9" y="417.2"/><use href="#s" x="235.8" y="415.8"/><use href="#s" x="237.2" y="416.8"/><use href="#s" x="236.8" y="415.9"/><use href="#s" x="236.7" y="415.7"/><use href="#s" x="238.7" y="418.0"/><use href="#s" x="239.7" y="417.8"/><use href="#s" x="238.9" y="418.2"/><use href="#s" x="239.8" y="417.7"/><use href="#s" x="239.7" y="419.8"/><use href="#s" x="238.5" y="417.3"/><use href="#s" x="239.5" y="419.2"/><use href="#s" x="241.5" y="418.6"/><use href="#s" x="241.6" y="419.1"/><use href="#s" x="241.7" y="418.9"/><use href="#s" x="241.8" y="419.6"/><use href="#s" x="243.1" y="421.5"/><use href="#s" x="241.2" y="420.5"/><use href="#s" x="243.0" y="421.0"/><use href="#s" x="244.2" y="421.1"/><use href="#s" x="244.5" y="420.0"/><use href="#s" x="242.9" y="422.3"/><use href="#s" x="245.6" y="420.5"/><use href="#s" x="246.0" y="422.0"/><use href="#s" x="243.5" y="422.4"/><use href="#s" x="245.1" y="422.9"/><use href="#s" x="245.7" y="421.6"/><use href="#s" x="245.4" y="422.3"/><use href="#s" x="247.8" y="422.2"/><use href="#s" x="246.0" y="424.6"/><use href="#s" x="249.2" y="423.7"/><use href="#s" x="247.8" y="422.5"/><use href="#s" x="247.4" y="424.1"/><use href="#s" x="250.0" y="423.0"/><use href="#s" x="249.4" y="423.9"/><use href="#s" x="249.6" y="424.7"/><use href="#s" x="251.8" y="424.1"/><use href="#s" x="251.3" y="425.7"/><use href="#s" x="250.8" y="424.9"/><use href="#s" x="250.4" y="426.1"/><use href="#s" x="251.4" y="425.0"/><use href="#s" x="252.3" y="425.1"/><use href="#s" x="251.8" y="425.8"/><use href="#s" x="254.2" y="426.1"/><use href="#s" x="253.8" y="425.3"/><use href="#s" x="252.3" y="428.1"/><use href="#s" x="253.9" y="425.8"/><use href="#s" x="254.5" y="427.7"/><use href="#s" x="253.7" y="426.7"/><use href="#s" x="255.6" y="427.0"/><use href="#s" x="256.4" y="428.6"/><use href="#s" x="256.5" y="427.8"/><use href="#s" x="256.6" y="427.9"/><use href="#s" x="256.9" y="428.9"/><use href="#s" x="257.2" y="429.6"/><use href="#s" x="259.8" y="428.7"/><use href="#s" x="258.5" y="430.0"/><use href="#s" x="259.1" y="429.4"/><use href="#s" x="258.6" y="430.6"/><use href="#s" x="259.9" y="430.4"/><use href="#s" x="259.2" y="430.8"/><use href="#s" x="260.8" y="430.4"/><use href="#s" x="261.1" y="432.4"/><use href="#s" x="259.5" y="431.5"/><use href="#s" x="260.5" y="430.2"/><use href="#s" x="261.6" y="431.9"/><use href="#s" x="262.2" y="430.8"/><use href="#s" x="261.5" y="431.5"/><use href="#s" x="263.0" y="431.5"/><use href="#s" x="262.2" y="433.8"/><use href="#s" x="263.1" y="432.5"/><use href="#s" x="263.8" y="432.4"/><use href="#s" x="264.6" y="432.9"/><use href="#s" x="265.5" y="432.5"/><use href="#s" x="264.2" y="435.1"/><use href="#s" x="265.7" y="434.4"/><use href="#s" x="267.1" y="434.5"/><use href="#s" x="266.6" y="433.1"/><use href="#s" x="265.7" y="435.3"/><use href="#s" x="267.9" y="435.2"/><use href="#s" x="266.5" y="433.4"/><use href="#s" x="267.4" y="434.3"/><use href="#s" x="268.7" y="434.7"/><use href="#s" x="270.2" y="435.3"/><use href="#s" x="268.9" y="436.6"/><use href="#s" x="270.0" y="435.5"/><use href="#s" x="270.8" y="437.9"/><use href="#s" x="269.6" y="436.5"/><use href="#s" x="270.1" y="435.4"/><use href="#s" x="271.9" y="437.7"/><use href="#s" x="272.5" y="437.7"/><use href="#s" x="270.6" y="437.6"/><use href="#s" x="272.1" y="437.0"/><use href="#s" x="272.1" y="438.7"/><use href="#s" x="273.1" y="439.9"/><use href="#s" x="274.1" y="437.1"/><use href="#s" x="274.9" y="439.8"/><use href="#s" x="274.6" y="438.1"/><use href="#s" x="276.3" y="438.3"/><use href="#s" x="275.3" y="438.0"/><use href="#s" x="274.8" y="438.4"/><use href="#s" x="277.0" y="440.9"/><use href="#s" x="276.2" y="439.2"/><use href="#s" x="276.9" y="440.8"/><use href="#s" x="276.2" y="439.8"/><use href="#s" x="277.7" y="441.5"/><use href="#s" x="278.2" y="441.5"/><use href="#s" x="277.6" y="439.5"/><use href="#s" x="279.2" y="440.9"/><use href="#s" x="279.3" y="441.6"/><use href="#s" x="280.1" y="441.5"/><use href="#s" x="281.3" y="442.4"/><use href="#s" x="281.0" y="443.1"/><use href="#s" x="281.8" y="443.2"/><use href="#s" x="280.0" y="442.6"/><use href="#s" x="283.2" y="443.7"/><use href="#s" x="282.6" y="443.9"/><use href="#s" x="282.1" y="443.2"/><use href="#s" x="282.4" y="444.9"/><use href="#s" x="283.6" y="445.6"/><use href="#s" x="284.1" y="446.0"/><use href="#s" x="284.5" y="443.8"/><use href="#s" x="285.9" y="445.2"/><use href="#s" x="285.9" y="445.4"/><use href="#s" x="285.1" y="445.6"/><use href="#s" x="284.9" y="444.7"/><use href="#s" x="285.5" y="445.5"/><use href="#s" x="285.5" y="446.1"/><use href="#s" x="287.2" y="448.0"/><use href="#s" x="288.8" y="446.6"/><use href="#s" x="288.4" y="446.7"/><use href="#s" x="288.4" y="447.1"/><use href="#s" x="288.1" y="447.4"/><use href="#s" x="287.8" y="447.9"/><use href="#s" x="289.1" y="446.9"/><use href="#s" x="289.5" y="448.5"/><use href="#s" x="289.6" y="448.6"/><use href="#s" x="291.0" y="449.7"/><use href="#s" x="290.1" y="448.6"/><use href="#s" x="291.7" y="450.1"/><use href="#s" x="291.9" y="449.8"/><use href="#s" x="291.0" y="449.0"/><use href="#s" x="293.8" y="449.5"/><use href="#s" x="294.6" y="449.3"/><use href="#s" x="293.1" y="448.9"/><use href="#s" x="294.2" y="450.6"/><use href="#s" x="295.7" y="450.7"/><use href="#s" x="294.3" y="449.7"/><use href="#s" x="294.9" y="451.8"/><use href="#s" x="295.9" y="452.3"/><use href="#s" x="296.4" y="451.5"/><use href="#s" x="296.6" y="451.9"/><use href="#s" x="295.5" y="453.4"/><use href="#s" x="297.2" y="451.4"/><use href="#s" x="297.6" y="452.7"/><use href="#s" x="298.5" y="453.9"/><use href="#s" x="295.7" y="453.4"/><use href="#s" x="299.7" y="452.5"/><use href="#s" x="297.5" y="453.7"/><use href="#s" x="299.6" y="454.0"/><use href="#s" x="298.8" y="453.5"/><use href="#s" x="300.3" y="454.7"/><use href="#s" x="302.3" y="454.6"/><use href="#s" x="300.4" y="452.7"/><use href="#s" x="302.2" y="454.7"/><use href="#s" x="301.6" y="454.3"/><use href="#s" x="302.7" y="453.9"/><use href="#s" x="302.6" y="455.7"/><use href="#s" x="303.2" y="456.8"/><use href="#s" x="303.2" y="456.1"/><use href="#s" x="304.4" y="455.0"/><use href="#s" x="303.9" y="456.6"/><use href="#s" x="305.3" y="456.1"/><use href="#s" x="305.5" y="457.3"/><use href="#s" x="304.1" y="456.0"/><use href="#s" x="304.6" y="457.5"/><use href="#s" x="306.3" y="458.2"/><use href="#s" x="307.2" y="457.5"/><use href="#s" x="307.8" y="458.8"/><use href="#s" x="307.7" y="458.8"/><use href="#s" x="306.7" y="458.9"/><use href="#s" x="307.3" y="457.9"/><use href="#s" x="308.2" y="459.2"/><use href="#s" x="308.9" y="459.1"/><use href="#s" x="308.5" y="459.7"/><use href="#s" x="309.1" y="458.7"/><use href="#s" x="310.2" y="461.2"/><use href="#s" x="310.2" y="459.4"/><use href="#s" x="312.0" y="461.8"/><use href="#s" x="311.1" y="460.6"/><use href="#s" x="311.9" y="463.3"/><use href="#s" x="312.2" y="462.0"/><use href="#s" x="312.8" y="460.0"/><use href="#s" x="312.0" y="460.7"/><use href="#s" x="313.6" y="462.0"/><use href="#s" x="315.1" y="461.9"/><use href="#s" x="314.3" y="462.4"/><use href="#s" x="314.6" y="464.4"/><use href="#s" x="315.1" y="464.0"/><use href="#s" x="316.3" y="462.6"/><use href="#s" x="316.2" y="463.0"/><use href="#s" x="316.2" y="463.7"/><use href="#s" x="316.5" y="463.4"/><use href="#s" x="318.1" y="463.8"/><use href="#s" x="317.8" y="465.6"/><use href="#s" x="318.2" y="465.3"/><use href="#s" x="319.2" y="465.6"/><use href="#s" x="319.9" y="463.8"/><use href="#s" x="320.4" y="465.2"/><use href="#s" x="317.9" y="464.9"/><use href="#s" x="318.6" y="465.6"/><use href="#s" x="318.9" y="465.1"/><use href="#s" x="320.7" y="466.2"/><use href="#s" x="320.2" y="466.2"/><use href="#s" x="321.2" y="466.6"/><use href="#s" x="321.7" y="466.6"/><use href="#s" x="322.8" y="465.8"/><use href="#s" x="322.1" y="467.4"/><use href="#s" x="322.6" y="467.1"/><use href="#s" x="322.9" y="467.9"/><use href="#s" x="324.7" y="467.8"/><use href="#s" x="323.9" y="468.5"/><use href="#s" x="324.3" y="466.9"/><use href="#s" x="325.1" y="468.4"/><use href="#s" x="324.8" y="469.4"/><use href="#s" x="325.7" y="468.7"/><use href="#s" x="324.3" y="468.0"/><use href="#s" x="326.5" y="469.5"/><use href="#s" x="327.2" y="470.0"/><use href="#s" x="326.9" y="469.1"/><use href="#s" x="326.8" y="470.2"/><use href="#s" x="327.1" y="471.1"/><use href="#s" x="327.4" y="469.3"/><use href="#s" x="328.7" y="469.6"/><use href="#s" x="330.6" y="470.5"/><use href="#s" x="329.6" y="471.3"/><use href="#s" x="329.4" y="470.3"/><use href="#s" x="329.0" y="472.6"/><use href="#s" x="331.7" y="473.9"/><use href="#s" x="330.1" y="472.9"/><use href="#s" x="331.6" y="473.3"/><use href="#s" x="331.6" y="473.5"/><use href="#s" x="333.2" y="473.6"/><use href="#s" x="334.0" y="473.2"/><use href="#s" x="334.5" y="473.0"/><use href="#s" x="335.0" y="471.6"/><use href="#s" x="334.1" y="473.4"/><use href="#s" x="334.5" y="475.1"/><use href="#s" x="335.4" y="474.6"/><use href="#s" x="336.6" y="473.6"/><use href="#s" x="335.0" y="476.2"/><use href="#s" x="336.3" y="473.5"/><use href="#s" x="336.7" y="474.5"/><use href="#s" x="338.0" y="476.6"/><use href="#s" x="336.8" y="476.9"/><use href="#s" x="337.0" y="476.9"/><use href="#s" x="338.5" y="476.3"/><use href="#s" x="337.3" y="476.4"/><use href="#s" x="337.0" y="476.4"/><use href="#s" x="337.8" y="478.0"/><use href="#s" x="338.9" y="475.4"/><use href="#s" x="340.5" y="477.8"/><use href="#s" x="340.0" y="479.5"/><use href="#s" x="341.5" y="478.1"/><use href="#s" x="340.7" y="475.9"/><use href="#s" x="342.0" y="479.2"/><use href="#s" x="341.6" y="477.6"/><use href="#s" x="342.4" y="477.6"/><use href="#s" x="342.8" y="479.8"/><use href="#s" x="344.4" y="479.6"/><use href="#s" x="343.8" y="480.2"/><use href="#s" x="345.2" y="479.6"/><use href="#s" x="343.5" y="479.5"/><use href="#s" x="343.8" y="479.6"/><use href="#s" x="345.1" y="480.8"/><use href="#s" x="345.8" y="480.8"/><use href="#s" x="345.7" y="481.4"/><use href="#s" x="347.1" y="481.9"/><use href="#s" x="348.0" y="481.3"/><use href="#s" x="347.0" y="483.1"/><use href="#s" x="347.8" y="482.3"/><use href="#s" x="347.8" y="483.0"/><use href="#s" x="348.1" y="481.6"/><use href="#s" x="348.8" y="482.3"/><use href="#s" x="349.9" y="482.6"/><use href="#s" x="349.7" y="482.9"/><use href="#s" x="350.3" y="482.8"/><use href="#s" x="351.3" y="482.4"/><use href="#s" x="350.5" y="483.2"/><use href="#s" x="351.7" y="484.1"/><use href="#s" x="352.0" y="484.0"/><use href="#s" x="351.4" y="483.6"/><use href="#s" x="352.2" y="484.3"/><use href="#s" x="353.0" y="485.3"/><use href="#s" x="354.0" y="485.1"/><use href="#s" x="353.0" y="484.6"/><use href="#s" x="354.1" y="486.0"/><use href="#s" x="356.0" y="486.0"/><use href="#s" x="356.2" y="487.6"/><use href="#s" x="354.4" y="487.3"/><use href="#s" x="356.5" y="487.7"/><use href="#s" x="356.0" y="487.6"/><use href="#s" x="356.0" y="487.0"/><use href="#s" x="356.8" y="488.7"/><use href="#s" x="357.0" y="488.3"/><use href="#s" x="357.7" y="487.2"/><use href="#s" x="358.2" y="488.5"/><use href="#s" x="357.8" y="488.7"/><use href="#s" x="358.2" y="487.7"/><use href="#s" x="359.4" y="488.5"/><use href="#s" x="358.8" y="487.6"/><use href="#s" x="360.0" y="489.3"/><use href="#s" x="360.0" y="489.5"/><use href="#s" x="359.6" y="489.9"/><use href="#s" x="361.5" y="490.1"/><use href="#s" x="361.1" y="490.1"/><use href="#s" x="362.1" y="491.2"/>
<circle cx="366.6" cy="492.2" r="2.2" fill="#00f"/>
<use href="#a" x="366.4" y="491.3" stroke="#00ffff"/>
<use href="#s" x="361.8" y="490.0"/>
<g stroke="#262626" stroke-width="1.5" fill="none">
<rect x="57.9" y="23.1" width="603.1" height="474.7"/>
<path d="M57.90 497.8v-6.8M57.90 23.1v6.8M178.52 497.8v-6.8M178.52 23.1v6.8M299.14 497.8v-6.8M299.14 23.1v6.8M419.76 497.8v-6.8M419.76 23.1v6.8M540.38 497.8v-6.8M540.38 23.1v6.8M661.00 497.8v-6.8M661.00 23.1v6.8M57.9 497.80h6.8M661.0 497.80h-6.8M57.9 445.06h6.8M661.0 445.06h-6.8M57.9 392.31h6.8M661.0 392.31h-6.8M57.9 339.57h6.8M661.0 339.57h-6.8M57.9 286.82h6.8M661.0 286.82h-6.8M57.9 234.08h6.8M661.0 234.08h-6.8M57.9 181.33h6.8M661.0 181.33h-6.8M57.9 128.59h6.8M661.0 128.59h-6.8M57.9 75.84h6.8M661.0 75.84h-6.8M57.9 23.10h6.8M661.0 23.10h-6.8" stroke-width="1.2"/>
</g>
<g font-size="18" fill="#262626" stroke="#262626" stroke-width="0.5">
<text transform="translate(57.30 523.80) scale(1.02 1)" text-anchor="middle">-5000</text>
<text transform="translate(177.92 523.80) scale(1.02 1)" text-anchor="middle">0</text>
<text transform="translate(298.54 523.80) scale(1.02 1)" text-anchor="middle">5000</text>
<text transform="translate(419.16 523.80) scale(1.02 1)" text-anchor="middle">10000</text>
<text transform="translate(539.78 523.80) scale(1.02 1)" text-anchor="middle">15000</text>
<text transform="translate(660.40 523.80) scale(1.02 1)" text-anchor="middle">20000</text>
<text transform="translate(49.30 504.75) scale(1.02 1)" text-anchor="end">-6000</text>
<text transform="translate(49.30 452.01) scale(1.02 1)" text-anchor="end">-4000</text>
<text transform="translate(49.30 399.26) scale(1.02 1)" text-anchor="end">-2000</text>
<text transform="translate(49.30 346.52) scale(1.02 1)" text-anchor="end">0</text>
<text transform="translate(49.30 293.77) scale(1.02 1)" text-anchor="end">2000</text>
<text transform="translate(49.30 241.03) scale(1.02 1)" text-anchor="end">4000</text>
<text transform="translate(49.30 188.28) scale(1.02 1)" text-anchor="end">6000</text>
<text transform="translate(49.30 135.54) scale(1.02 1)" text-anchor="end">8000</text>
<text transform="translate(49.30 82.79) scale(1.02 1)" text-anchor="end">10000</text>
<text transform="translate(49.30 30.05) scale(1.02 1)" text-anchor="end">12000</text>
</g>
<text x="356" y="14.5" font-size="20" text-anchor="middle" fill="#000" stroke="#000" stroke-width="0.4">target trajectory</text>
<rect x="121.2" y="65.15" width="201.8" height="124.19999999999999" fill="#fff"/>
<line x1="121.2" y1="156.4" x2="322.8" y2="95.95" stroke="#00f" stroke-width="4.7" stroke-linecap="round"/>
<use href="#a" x="144.2" y="154.0" stroke="#00ff00"/><use href="#a" x="186.0" y="133.0" stroke="#00ff00"/><use href="#a" x="231.1" y="115.7" stroke="#00ff00"/><use href="#a" x="283.9" y="113.4" stroke="#00ff00"/><use href="#a" x="318.4" y="105.9" stroke="#00ff00"/>
<use href="#a" x="139.3" y="144.2" stroke="#000000"/><use href="#a" x="189.6" y="135.3" stroke="#000000"/><use href="#a" x="236.0" y="123.4" stroke="#000000"/><use href="#a" x="275.4" y="117.5" stroke="#000000"/><use href="#a" x="313.6" y="104.1" stroke="#000000"/>
<use href="#a" x="155.0" y="138.0" stroke="#ffff00"/><use href="#a" x="199.4" y="126.0" stroke="#ffff00"/><use href="#a" x="243.4" y="125.2" stroke="#ffff00"/><use href="#a" x="288.6" y="102.6" stroke="#ffff00"/>
<use href="#a" x="136.9" y="152.3" stroke="#00ffff"/><use href="#a" x="184.0" y="145.0" stroke="#00ffff"/><use href="#a" x="216.8" y="124.0" stroke="#00ffff"/><use href="#a" x="253.0" y="110.8" stroke="#00ffff"/><use href="#a" x="313.1" y="100.0" stroke="#00ffff"/>
<use href="#s" x="140.6" y="146.6"/><use href="#s" x="179.4" y="137.0"/><use href="#s" x="221.1" y="127.5"/><use href="#s" x="264.4" y="111.3"/><use href="#s" x="304.0" y="100.8"/>
<g stroke="#262626" stroke-width="1.4" fill="none">
<rect x="121.2" y="65.15" width="201.8" height="124.19999999999999"/>
<path d="M181.15 189.35v-2.0M181.15 65.15v2.0M247.00 189.35v-2.0M247.00 65.15v2.0M312.85 189.35v-2.0M312.85 65.15v2.0M121.2 67.70h2.0M323.0 67.70h-2.0M121.2 106.10h2.0M323.0 106.10h-2.0M121.2 144.60h2.0M323.0 144.60h-2.0M121.2 183.20h2.0M323.0 183.20h-2.0"/>
</g>
<g font-size="14.5" fill="#262626" stroke="#262626" stroke-width="0.45">
<text transform="translate(181.25 208.30) scale(1.0125 1)" text-anchor="middle">5600</text>
<text transform="translate(247.10 208.30) scale(1.0125 1)" text-anchor="middle">5800</text>
<text transform="translate(312.95 208.30) scale(1.0125 1)" text-anchor="middle">6000</text>
<text transform="translate(117.20 73.19) scale(1.0125 1)" text-anchor="end">4800</text>
<text transform="translate(117.20 111.59) scale(1.0125 1)" text-anchor="end">4600</text>
<text transform="translate(117.20 150.09) scale(1.0125 1)" text-anchor="end">4400</text>
<text transform="translate(117.20 188.69) scale(1.0125 1)" text-anchor="end">4200</text>
</g>
<rect x="386.4" y="316.1" width="218.55000000000007" height="147.09999999999997" fill="#fff"/>
<line x1="386.4" y1="369.5" x2="603.5" y2="410.05" stroke="#00f" stroke-width="4.7" stroke-linecap="round"/>
<use href="#a" x="394.0" y="371.4" stroke="#00ff00"/><use href="#a" x="432.0" y="374.9" stroke="#00ff00"/><use href="#a" x="452.7" y="370.7" stroke="#00ff00"/><use href="#a" x="479.9" y="393.8" stroke="#00ff00"/><use href="#a" x="480.0" y="386.8" stroke="#00ff00"/><use href="#a" x="511.9" y="395.9" stroke="#00ff00"/><use href="#a" x="535.9" y="402.2" stroke="#00ff00"/><use href="#a" x="546.4" y="406.9" stroke="#00ff00"/><use href="#a" x="586.9" y="405.7" stroke="#00ff00"/>
<use href="#a" x="394.9" y="371.0" stroke="#000000"/><use href="#a" x="412.8" y="379.8" stroke="#000000"/><use href="#a" x="430.8" y="379.4" stroke="#000000"/><use href="#a" x="462.3" y="381.5" stroke="#000000"/><use href="#a" x="481.6" y="394.1" stroke="#000000"/><use href="#a" x="510.5" y="388.9" stroke="#000000"/><use href="#a" x="532.0" y="392.0" stroke="#000000"/><use href="#a" x="565.7" y="409.9" stroke="#000000"/><use href="#a" x="602.1" y="406.9" stroke="#000000"/>
<use href="#a" x="387.9" y="370.1" stroke="#ffff00"/><use href="#a" x="416.0" y="372.4" stroke="#ffff00"/><use href="#a" x="437.5" y="383.3" stroke="#ffff00"/><use href="#a" x="477.0" y="387.7" stroke="#ffff00"/><use href="#a" x="498.1" y="385.3" stroke="#ffff00"/><use href="#a" x="504.9" y="393.8" stroke="#ffff00"/><use href="#a" x="532.9" y="396.4" stroke="#ffff00"/><use href="#a" x="556.6" y="394.7" stroke="#ffff00"/><use href="#a" x="575.3" y="409.6" stroke="#ffff00"/><use href="#a" x="599.5" y="412.7" stroke="#ffff00"/>
<use href="#a" x="414.2" y="374.5" stroke="#00ffff"/><use href="#a" x="421.7" y="380.0" stroke="#00ffff"/><use href="#a" x="451.0" y="385.9" stroke="#00ffff"/><use href="#a" x="469.7" y="392.9" stroke="#00ffff"/><use href="#a" x="494.4" y="397.1" stroke="#00ffff"/><use href="#a" x="518.9" y="386.4" stroke="#00ffff"/><use href="#a" x="540.8" y="401.7" stroke="#00ffff"/><use href="#a" x="562.7" y="407.8" stroke="#00ffff"/><use href="#a" x="600.7" y="410.4" stroke="#00ffff"/>
<use href="#s" x="402.8" y="374.5"/><use href="#s" x="422.0" y="379.8"/><use href="#s" x="452.4" y="383.6"/><use href="#s" x="474.6" y="383.6"/><use href="#s" x="494.3" y="389.4"/><use href="#s" x="516.8" y="394.1"/><use href="#s" x="538.7" y="395.6"/><use href="#s" x="555.2" y="405.2"/><use href="#s" x="582.3" y="407.8"/>
<g stroke="#262626" stroke-width="1.4" fill="none">
<rect x="386.4" y="316.1" width="218.55000000000007" height="147.09999999999997"/>
<path d="M401.70 463.2v-2.0M401.70 316.1v2.0M442.20 463.2v-2.0M442.20 316.1v2.0M483.00 463.2v-2.0M483.00 316.1v2.0M523.60 463.2v-2.0M523.60 316.1v2.0M564.10 463.2v-2.0M564.10 316.1v2.0M386.4 325.40h2.0M604.95 325.40h-2.0M386.4 354.00h2.0M604.95 354.00h-2.0M386.4 382.70h2.0M604.95 382.70h-2.0M386.4 411.30h2.0M604.95 411.30h-2.0M386.4 439.90h2.0M604.95 439.90h-2.0"/>
</g>
<g font-size="15.3" fill="#262626" stroke="#262626" stroke-width="0.45">
<text transform="translate(401.20 483.80) scale(1.033 1)" text-anchor="middle">2900</text>
<text transform="translate(441.70 483.80) scale(1.033 1)" text-anchor="middle">3000</text>
<text transform="translate(482.50 483.80) scale(1.033 1)" text-anchor="middle">3100</text>
<text transform="translate(523.10 483.80) scale(1.033 1)" text-anchor="middle">3200</text>
<text transform="translate(563.60 483.80) scale(1.033 1)" text-anchor="middle">3300</text>
<text transform="translate(381.30 331.33) scale(1.033 1)" text-anchor="end">-2800</text>
<text transform="translate(381.30 359.93) scale(1.033 1)" text-anchor="end">-3000</text>
<text transform="translate(381.30 388.63) scale(1.033 1)" text-anchor="end">-3200</text>
<text transform="translate(381.30 417.23) scale(1.033 1)" text-anchor="end">-3400</text>
<text transform="translate(381.30 445.83) scale(1.033 1)" text-anchor="end">-3600</text>
</g>
<rect x="500.8" y="37.75" width="145.59999999999997" height="141.61" fill="#fff" stroke="#262626" stroke-width="1.3"/>
<circle cx="534" cy="51.6" r="2.1" fill="#00f"/>
<use href="#a" x="534.0" y="74.2" stroke="#00ff00"/>
<use href="#a" x="534.0" y="97.0" stroke="#000000"/>
<use href="#a" x="534.0" y="119.9" stroke="#ffff00"/>
<use href="#a" x="534.0" y="142.8" stroke="#00ffff"/>
<use href="#s" x="534.0" y="166.0"/>
<g font-size="16.4" fill="#000" stroke="#000" stroke-width="0.5">
<text x="565.9" y="58.50">true</text>
<text x="565.9" y="81.10">sensor1</text>
<text x="565.9" y="103.90">sensor2</text>
<text x="565.9" y="126.80">sensor3</text>
<text x="565.9" y="149.70">sensor4</text>
<text x="565.9" y="172.30">Estimated</text>
</g>
</svg>
</body></html>
